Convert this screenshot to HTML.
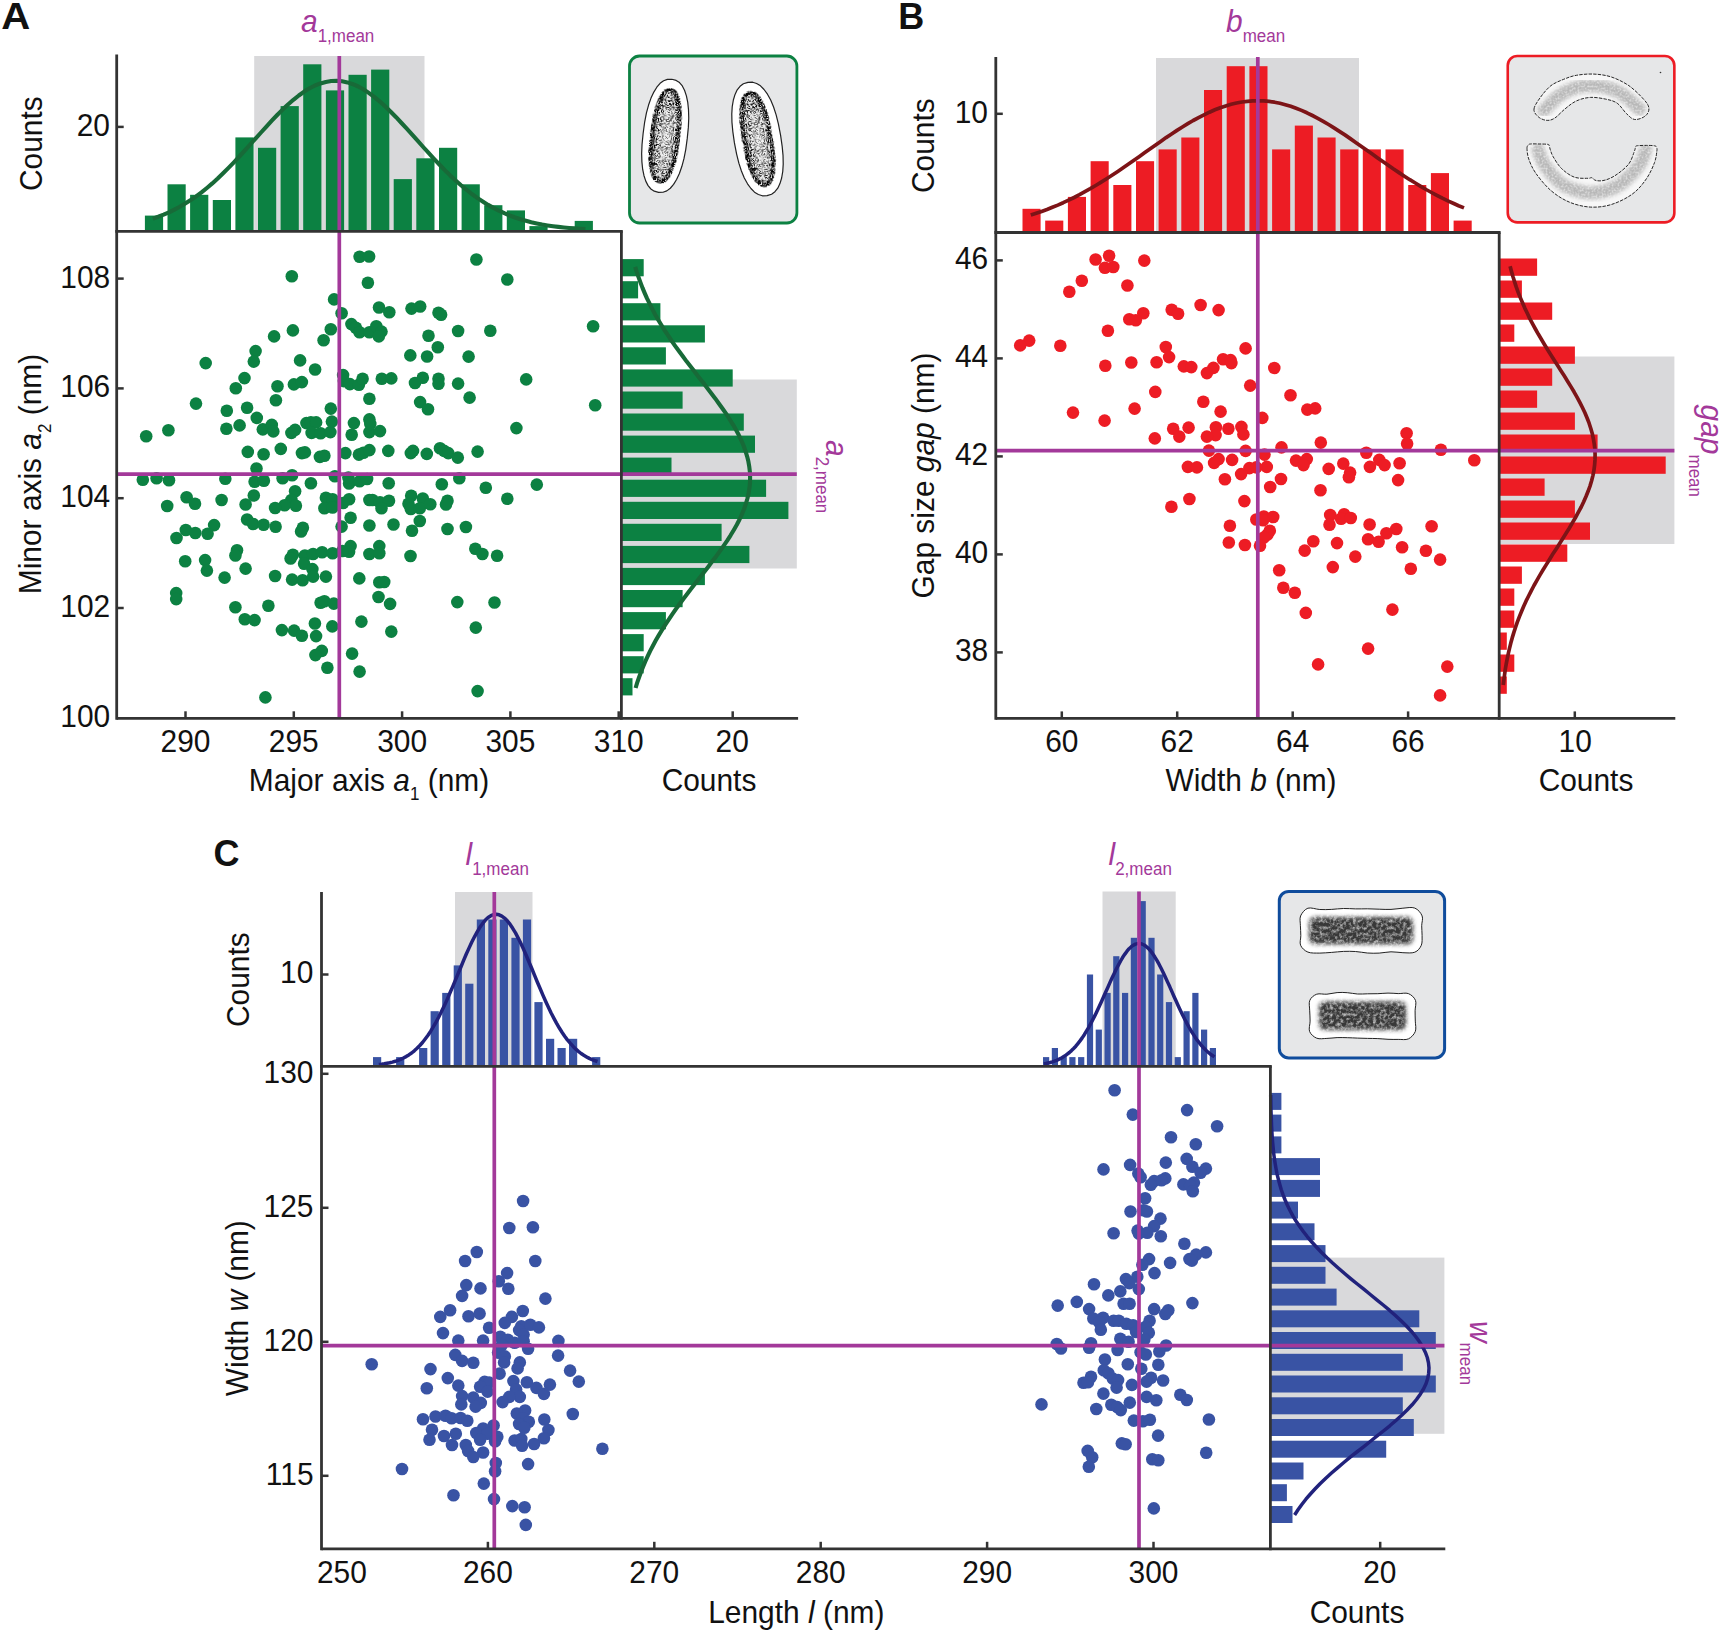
<!DOCTYPE html>
<html><head><meta charset="utf-8"><title>Figure</title>
<style>html,body{margin:0;padding:0;background:#fff}svg{display:block}</style>
</head><body>
<svg width="1719" height="1632" viewBox="0 0 1719 1632" font-family="'Liberation Sans', sans-serif">
<rect width="1719" height="1632" fill="#fff"/>
<rect x="254.2" y="56" width="170.3" height="175.3" fill="#d9d9db"/>
<rect x="623" y="379.5" width="173.8" height="189" fill="#d9d9db"/>
<rect x="144.9" y="215.6" width="18.2" height="15.7" fill="#0c8142"/>
<rect x="167.5" y="184.3" width="18.2" height="47" fill="#0c8142"/>
<rect x="190.1" y="194.8" width="18.2" height="36.5" fill="#0c8142"/>
<rect x="212.8" y="200" width="18.2" height="31.3" fill="#0c8142"/>
<rect x="235.4" y="137.4" width="18.2" height="93.9" fill="#0c8142"/>
<rect x="258" y="147.8" width="18.2" height="83.5" fill="#0c8142"/>
<rect x="280.6" y="106.1" width="18.2" height="125.2" fill="#0c8142"/>
<rect x="303.2" y="64.3" width="18.2" height="167" fill="#0c8142"/>
<rect x="325.9" y="90.4" width="18.2" height="140.9" fill="#0c8142"/>
<rect x="348.5" y="74.8" width="18.2" height="156.5" fill="#0c8142"/>
<rect x="371.1" y="69.6" width="18.2" height="161.7" fill="#0c8142"/>
<rect x="393.7" y="179.1" width="18.2" height="52.2" fill="#0c8142"/>
<rect x="416.3" y="158.3" width="18.2" height="73" fill="#0c8142"/>
<rect x="439" y="147.8" width="18.2" height="83.5" fill="#0c8142"/>
<rect x="461.6" y="184.3" width="18.2" height="47" fill="#0c8142"/>
<rect x="484.2" y="205.2" width="18.2" height="26.1" fill="#0c8142"/>
<rect x="506.8" y="210.4" width="18.2" height="20.9" fill="#0c8142"/>
<rect x="529.4" y="226.1" width="18.2" height="5.2" fill="#0c8142"/>
<rect x="574.7" y="220.9" width="18.2" height="10.4" fill="#0c8142"/>
<rect x="621.4" y="259.1" width="22.3" height="17.2" fill="#0c8142"/>
<rect x="621.4" y="281.2" width="16.7" height="17.2" fill="#0c8142"/>
<rect x="621.4" y="303.2" width="39" height="17.2" fill="#0c8142"/>
<rect x="621.4" y="325.3" width="83.5" height="17.2" fill="#0c8142"/>
<rect x="621.4" y="347.3" width="44.5" height="17.2" fill="#0c8142"/>
<rect x="621.4" y="369.4" width="111.3" height="17.2" fill="#0c8142"/>
<rect x="621.4" y="391.5" width="61.2" height="17.2" fill="#0c8142"/>
<rect x="621.4" y="413.5" width="122.4" height="17.2" fill="#0c8142"/>
<rect x="621.4" y="435.6" width="133.6" height="17.2" fill="#0c8142"/>
<rect x="621.4" y="457.6" width="50.1" height="17.2" fill="#0c8142"/>
<rect x="621.4" y="479.7" width="144.7" height="17.2" fill="#0c8142"/>
<rect x="621.4" y="501.8" width="167" height="17.2" fill="#0c8142"/>
<rect x="621.4" y="523.8" width="100.2" height="17.2" fill="#0c8142"/>
<rect x="621.4" y="545.9" width="128" height="17.2" fill="#0c8142"/>
<rect x="621.4" y="567.9" width="83.5" height="17.2" fill="#0c8142"/>
<rect x="621.4" y="590" width="61.2" height="17.2" fill="#0c8142"/>
<rect x="621.4" y="612.1" width="44.5" height="17.2" fill="#0c8142"/>
<rect x="621.4" y="634.1" width="22.3" height="17.2" fill="#0c8142"/>
<rect x="621.4" y="656.2" width="22.3" height="17.2" fill="#0c8142"/>
<rect x="621.4" y="678.2" width="11.1" height="17.2" fill="#0c8142"/>
<polyline points="152.8,218.6 158.2,216.7 163.6,214.6 169,212.3 174.4,209.6 179.8,206.8 185.2,203.6 190.7,200.1 196.1,196.4 201.5,192.4 206.9,188 212.3,183.4 217.7,178.5 223.1,173.3 228.5,167.9 233.9,162.3 239.3,156.5 244.7,150.6 250.1,144.6 255.5,138.6 261,132.5 266.4,126.6 271.8,120.7 277.2,115 282.6,109.6 288,104.5 293.4,99.8 298.8,95.5 304.2,91.6 309.6,88.3 315,85.5 320.4,83.4 325.8,81.9 331.2,81 336.7,80.8 342.1,81.3 347.5,82.4 352.9,84.2 358.3,86.5 363.7,89.5 369.1,93.1 374.5,97.1 379.9,101.6 385.3,106.5 390.7,111.7 396.1,117.2 401.5,123 407,128.9 412.4,134.9 417.8,140.9 423.2,147 428.6,152.9 434,158.8 439.4,164.5 444.8,170.1 450.2,175.4 455.6,180.4 461,185.2 466.4,189.7 471.8,194 477.2,197.9 482.7,201.5 488.1,204.9 493.5,207.9 498.9,210.7 504.3,213.2 509.7,215.5 515.1,217.5 520.5,219.3 525.9,220.8 531.3,222.2 536.7,223.4 542.1,224.5 547.5,225.4 553,226.2 558.4,226.9 563.8,227.5 569.2,228 574.6,228.4 580,228.7 585.4,229" fill="none" stroke="#186a38" stroke-width="4.1" stroke-linecap="butt" stroke-linejoin="round"/>
<polyline points="635.2,266.8 636.8,272.1 638.6,277.3 640.5,282.6 642.5,287.9 644.7,293.1 647,298.4 649.6,303.7 652.2,308.9 655,314.2 658,319.4 661.2,324.7 664.4,330 667.9,335.2 671.4,340.5 675.1,345.8 678.9,351 682.8,356.3 686.7,361.6 690.8,366.8 694.9,372.1 699,377.4 703.1,382.6 707.2,387.9 711.2,393.2 715.2,398.4 719,403.7 722.8,409 726.4,414.2 729.8,419.5 733.1,424.8 736.1,430 738.9,435.3 741.4,440.5 743.6,445.8 745.5,451.1 747.1,456.3 748.4,461.6 749.3,466.9 749.9,472.1 750.1,477.4 750,482.7 749.5,487.9 748.6,493.2 747.4,498.5 745.9,503.7 744.1,509 741.9,514.3 739.5,519.5 736.8,524.8 733.8,530 730.6,535.3 727.2,540.6 723.6,545.8 719.9,551.1 716.1,556.4 712.1,561.6 708.1,566.9 704,572.2 699.9,577.4 695.8,582.7 691.7,588 687.7,593.2 683.7,598.5 679.8,603.8 675.9,609 672.2,614.3 668.7,619.6 665.2,624.8 661.9,630.1 658.7,635.4 655.7,640.6 652.8,645.9 650.1,651.1 647.6,656.4 645.2,661.7 643,666.9 640.9,672.2 639,677.5 637.2,682.7 635.6,688" fill="none" stroke="#186a38" stroke-width="4.1" stroke-linecap="butt" stroke-linejoin="round"/>
<g fill="#0c8142">
<circle cx="256.5" cy="468.5" r="6.3"/>
<circle cx="291.8" cy="276.3" r="6.3"/>
<circle cx="359.6" cy="256.8" r="6.3"/>
<circle cx="367.9" cy="282.8" r="6.3"/>
<circle cx="334.1" cy="299.4" r="6.3"/>
<circle cx="341.6" cy="313.2" r="6.3"/>
<circle cx="351.4" cy="324.1" r="6.3"/>
<circle cx="355.9" cy="327.8" r="6.3"/>
<circle cx="359.6" cy="332.3" r="6.3"/>
<circle cx="369.4" cy="332.3" r="6.3"/>
<circle cx="330.8" cy="329.3" r="6.3"/>
<circle cx="323.6" cy="340.3" r="6.3"/>
<circle cx="292.9" cy="330.4" r="6.3"/>
<circle cx="274.1" cy="336.4" r="6.3"/>
<circle cx="255.6" cy="351.1" r="6.3"/>
<circle cx="253.8" cy="361.6" r="6.3"/>
<circle cx="205.7" cy="363.1" r="6.3"/>
<circle cx="300.1" cy="360.4" r="6.3"/>
<circle cx="315.1" cy="369.5" r="6.3"/>
<circle cx="244.5" cy="378.1" r="6.3"/>
<circle cx="235.8" cy="388.3" r="6.3"/>
<circle cx="277.5" cy="386.3" r="6.3"/>
<circle cx="293.9" cy="384.4" r="6.3"/>
<circle cx="301.9" cy="382.1" r="6.3"/>
<circle cx="343.1" cy="375.1" r="6.3"/>
<circle cx="343.9" cy="381.1" r="6.3"/>
<circle cx="349.9" cy="384.1" r="6.3"/>
<circle cx="358.9" cy="384.8" r="6.3"/>
<circle cx="362.6" cy="378.8" r="6.3"/>
<circle cx="275.9" cy="400.3" r="6.3"/>
<circle cx="369.4" cy="398.8" r="6.3"/>
<circle cx="196" cy="403.6" r="6.3"/>
<circle cx="226.8" cy="410.8" r="6.3"/>
<circle cx="247.1" cy="407.7" r="6.3"/>
<circle cx="330.8" cy="408.6" r="6.3"/>
<circle cx="256.8" cy="417.9" r="6.3"/>
<circle cx="239.6" cy="425.4" r="6.3"/>
<circle cx="226.4" cy="428.8" r="6.3"/>
<circle cx="262.8" cy="429.4" r="6.3"/>
<circle cx="271.8" cy="424.9" r="6.3"/>
<circle cx="273.3" cy="431.4" r="6.3"/>
<circle cx="291.4" cy="432.9" r="6.3"/>
<circle cx="295.1" cy="429.9" r="6.3"/>
<circle cx="306.4" cy="423.1" r="6.3"/>
<circle cx="310.9" cy="422.4" r="6.3"/>
<circle cx="316.1" cy="422.4" r="6.3"/>
<circle cx="311.6" cy="432.9" r="6.3"/>
<circle cx="320.6" cy="433.3" r="6.3"/>
<circle cx="330.4" cy="432.1" r="6.3"/>
<circle cx="331.9" cy="421.6" r="6.3"/>
<circle cx="353.9" cy="423.1" r="6.3"/>
<circle cx="351.7" cy="434.8" r="6.3"/>
<circle cx="369.4" cy="419.4" r="6.3"/>
<circle cx="369.4" cy="432.1" r="6.3"/>
<circle cx="168.4" cy="430.3" r="6.3"/>
<circle cx="146.2" cy="436.3" r="6.3"/>
<circle cx="247.8" cy="451.9" r="6.3"/>
<circle cx="263.6" cy="454.2" r="6.3"/>
<circle cx="280.8" cy="448.9" r="6.3"/>
<circle cx="301.9" cy="453.1" r="6.3"/>
<circle cx="304.9" cy="452.4" r="6.3"/>
<circle cx="319.9" cy="456.9" r="6.3"/>
<circle cx="324.4" cy="455.8" r="6.3"/>
<circle cx="345.4" cy="453.1" r="6.3"/>
<circle cx="358.9" cy="454.6" r="6.3"/>
<circle cx="363.4" cy="452.8" r="6.3"/>
<circle cx="369.4" cy="450.1" r="6.3"/>
<circle cx="369.1" cy="256.5" r="6.3"/>
<circle cx="476.4" cy="259.5" r="6.3"/>
<circle cx="507.3" cy="279.5" r="6.3"/>
<circle cx="379" cy="307.5" r="6.3"/>
<circle cx="389.3" cy="312.3" r="6.3"/>
<circle cx="411.5" cy="308.6" r="6.3"/>
<circle cx="420.2" cy="306.5" r="6.3"/>
<circle cx="438.5" cy="312.8" r="6.3"/>
<circle cx="441.1" cy="314.8" r="6.3"/>
<circle cx="376.3" cy="326.3" r="6.3"/>
<circle cx="381.5" cy="331.6" r="6.3"/>
<circle cx="378.8" cy="336.4" r="6.3"/>
<circle cx="428.5" cy="335.8" r="6.3"/>
<circle cx="458.1" cy="331" r="6.3"/>
<circle cx="490.3" cy="330.7" r="6.3"/>
<circle cx="593.1" cy="326.2" r="6.3"/>
<circle cx="437.8" cy="347.3" r="6.3"/>
<circle cx="410.3" cy="355.4" r="6.3"/>
<circle cx="427.1" cy="356.5" r="6.3"/>
<circle cx="468.6" cy="356.6" r="6.3"/>
<circle cx="381.8" cy="378.8" r="6.3"/>
<circle cx="391.3" cy="378.4" r="6.3"/>
<circle cx="415" cy="383" r="6.3"/>
<circle cx="422.8" cy="377.8" r="6.3"/>
<circle cx="438.5" cy="378.8" r="6.3"/>
<circle cx="438.5" cy="383.8" r="6.3"/>
<circle cx="458.1" cy="383.6" r="6.3"/>
<circle cx="526.2" cy="379.4" r="6.3"/>
<circle cx="469.6" cy="397.6" r="6.3"/>
<circle cx="420.1" cy="402.1" r="6.3"/>
<circle cx="428" cy="409.3" r="6.3"/>
<circle cx="595.2" cy="405.3" r="6.3"/>
<circle cx="370.3" cy="423.9" r="6.3"/>
<circle cx="380" cy="431.1" r="6.3"/>
<circle cx="516.4" cy="428.1" r="6.3"/>
<circle cx="388.3" cy="450.9" r="6.3"/>
<circle cx="413" cy="450.9" r="6.3"/>
<circle cx="410.8" cy="453.1" r="6.3"/>
<circle cx="426.8" cy="453.9" r="6.3"/>
<circle cx="440" cy="448.3" r="6.3"/>
<circle cx="444.1" cy="450.9" r="6.3"/>
<circle cx="448.3" cy="453.1" r="6.3"/>
<circle cx="457.8" cy="457.6" r="6.3"/>
<circle cx="477.6" cy="451.6" r="6.3"/>
<circle cx="142.8" cy="479.8" r="6.3"/>
<circle cx="156.6" cy="478.3" r="6.3"/>
<circle cx="169" cy="480.2" r="6.3"/>
<circle cx="225.3" cy="478.7" r="6.3"/>
<circle cx="254.6" cy="481.7" r="6.3"/>
<circle cx="263.9" cy="480.8" r="6.3"/>
<circle cx="282.6" cy="478.3" r="6.3"/>
<circle cx="292.1" cy="475.3" r="6.3"/>
<circle cx="310.9" cy="483.2" r="6.3"/>
<circle cx="334.9" cy="476.3" r="6.3"/>
<circle cx="349.1" cy="483.5" r="6.3"/>
<circle cx="359.6" cy="481.3" r="6.3"/>
<circle cx="367.1" cy="479" r="6.3"/>
<circle cx="348.4" cy="477.5" r="6.3"/>
<circle cx="186.6" cy="497.3" r="6.3"/>
<circle cx="195" cy="503.8" r="6.3"/>
<circle cx="167.2" cy="506" r="6.3"/>
<circle cx="221.6" cy="500" r="6.3"/>
<circle cx="253.8" cy="495.5" r="6.3"/>
<circle cx="245.6" cy="504.5" r="6.3"/>
<circle cx="295.1" cy="491.3" r="6.3"/>
<circle cx="291.4" cy="500" r="6.3"/>
<circle cx="295.9" cy="505.7" r="6.3"/>
<circle cx="284.6" cy="505.3" r="6.3"/>
<circle cx="275.1" cy="508" r="6.3"/>
<circle cx="325.9" cy="497.8" r="6.3"/>
<circle cx="332.6" cy="499.3" r="6.3"/>
<circle cx="324.4" cy="508.3" r="6.3"/>
<circle cx="332.6" cy="507.5" r="6.3"/>
<circle cx="349.1" cy="499.3" r="6.3"/>
<circle cx="343.1" cy="503" r="6.3"/>
<circle cx="369.4" cy="500" r="6.3"/>
<circle cx="350.6" cy="517.7" r="6.3"/>
<circle cx="341.6" cy="526.6" r="6.3"/>
<circle cx="369.4" cy="525.5" r="6.3"/>
<circle cx="247.1" cy="519.5" r="6.3"/>
<circle cx="253.1" cy="524" r="6.3"/>
<circle cx="263.6" cy="524.8" r="6.3"/>
<circle cx="275.6" cy="526.7" r="6.3"/>
<circle cx="302.9" cy="527.8" r="6.3"/>
<circle cx="301.1" cy="531.5" r="6.3"/>
<circle cx="214.1" cy="525.1" r="6.3"/>
<circle cx="185.8" cy="530" r="6.3"/>
<circle cx="195.3" cy="533" r="6.3"/>
<circle cx="207.6" cy="533.8" r="6.3"/>
<circle cx="176.5" cy="538" r="6.3"/>
<circle cx="237" cy="550.3" r="6.3"/>
<circle cx="235.4" cy="555.5" r="6.3"/>
<circle cx="185.2" cy="561.3" r="6.3"/>
<circle cx="205.1" cy="560.1" r="6.3"/>
<circle cx="206.9" cy="570.6" r="6.3"/>
<circle cx="245.6" cy="568.6" r="6.3"/>
<circle cx="224.6" cy="577.6" r="6.3"/>
<circle cx="275.1" cy="576" r="6.3"/>
<circle cx="292.9" cy="554.8" r="6.3"/>
<circle cx="290.6" cy="558.5" r="6.3"/>
<circle cx="304.9" cy="555.5" r="6.3"/>
<circle cx="313.1" cy="554" r="6.3"/>
<circle cx="322.1" cy="552.2" r="6.3"/>
<circle cx="332.6" cy="553.3" r="6.3"/>
<circle cx="350.6" cy="546.1" r="6.3"/>
<circle cx="349.1" cy="551.8" r="6.3"/>
<circle cx="342.4" cy="551" r="6.3"/>
<circle cx="369.4" cy="554" r="6.3"/>
<circle cx="304.1" cy="563.8" r="6.3"/>
<circle cx="312.4" cy="569.1" r="6.3"/>
<circle cx="292.1" cy="579.6" r="6.3"/>
<circle cx="302.6" cy="580.3" r="6.3"/>
<circle cx="313.1" cy="576.6" r="6.3"/>
<circle cx="325.9" cy="576.6" r="6.3"/>
<circle cx="359.3" cy="578.4" r="6.3"/>
<circle cx="176.2" cy="593.1" r="6.3"/>
<circle cx="176.2" cy="599.1" r="6.3"/>
<circle cx="235.4" cy="607.3" r="6.3"/>
<circle cx="268.4" cy="605.7" r="6.3"/>
<circle cx="320.6" cy="602.8" r="6.3"/>
<circle cx="324.4" cy="601.3" r="6.3"/>
<circle cx="333.8" cy="603.6" r="6.3"/>
<circle cx="244.8" cy="619.3" r="6.3"/>
<circle cx="254.6" cy="620.1" r="6.3"/>
<circle cx="281.9" cy="630.1" r="6.3"/>
<circle cx="294.1" cy="630.6" r="6.3"/>
<circle cx="301.9" cy="635.8" r="6.3"/>
<circle cx="314.9" cy="623.5" r="6.3"/>
<circle cx="316.1" cy="636.1" r="6.3"/>
<circle cx="332.3" cy="626.4" r="6.3"/>
<circle cx="361.4" cy="621.6" r="6.3"/>
<circle cx="321.8" cy="650.9" r="6.3"/>
<circle cx="315.4" cy="655.1" r="6.3"/>
<circle cx="352.1" cy="653.6" r="6.3"/>
<circle cx="327.4" cy="667.7" r="6.3"/>
<circle cx="359.6" cy="671.6" r="6.3"/>
<circle cx="265.4" cy="697.4" r="6.3"/>
<circle cx="372.5" cy="500" r="6.3"/>
<circle cx="388.7" cy="483.2" r="6.3"/>
<circle cx="441.8" cy="484.3" r="6.3"/>
<circle cx="459.3" cy="478.3" r="6.3"/>
<circle cx="485.8" cy="487.7" r="6.3"/>
<circle cx="536.8" cy="484.6" r="6.3"/>
<circle cx="507.3" cy="498.8" r="6.3"/>
<circle cx="380" cy="502.3" r="6.3"/>
<circle cx="389" cy="500.8" r="6.3"/>
<circle cx="381.5" cy="508.3" r="6.3"/>
<circle cx="411.2" cy="495.8" r="6.3"/>
<circle cx="408.5" cy="503.8" r="6.3"/>
<circle cx="410.8" cy="509" r="6.3"/>
<circle cx="422.8" cy="498.5" r="6.3"/>
<circle cx="419.8" cy="508.3" r="6.3"/>
<circle cx="430.3" cy="504.2" r="6.3"/>
<circle cx="447.5" cy="500.8" r="6.3"/>
<circle cx="446" cy="504.5" r="6.3"/>
<circle cx="393.5" cy="524.5" r="6.3"/>
<circle cx="419.8" cy="521" r="6.3"/>
<circle cx="412" cy="530.8" r="6.3"/>
<circle cx="447.5" cy="529" r="6.3"/>
<circle cx="465.9" cy="527" r="6.3"/>
<circle cx="379.3" cy="546.1" r="6.3"/>
<circle cx="379.3" cy="553.3" r="6.3"/>
<circle cx="410.5" cy="556" r="6.3"/>
<circle cx="475.3" cy="548.8" r="6.3"/>
<circle cx="482.4" cy="554" r="6.3"/>
<circle cx="497.1" cy="555.8" r="6.3"/>
<circle cx="379.3" cy="582.3" r="6.3"/>
<circle cx="384.2" cy="582" r="6.3"/>
<circle cx="378.5" cy="597" r="6.3"/>
<circle cx="390.1" cy="603.9" r="6.3"/>
<circle cx="457.3" cy="602.1" r="6.3"/>
<circle cx="494.5" cy="602.5" r="6.3"/>
<circle cx="391.3" cy="631.6" r="6.3"/>
<circle cx="475.8" cy="627.6" r="6.3"/>
<circle cx="477.6" cy="691.1" r="6.3"/>
</g>
<line x1="339.3" y1="56" x2="339.3" y2="718.3" stroke="#a3399a" stroke-width="3.7" stroke-linecap="butt"/>
<line x1="116.7" y1="474.1" x2="796.8" y2="474.1" stroke="#a3399a" stroke-width="3.7" stroke-linecap="butt"/>
<line x1="116.7" y1="54.6" x2="116.7" y2="719.7" stroke="#333333" stroke-width="2.8" stroke-linecap="butt"/>
<line x1="115.3" y1="231.3" x2="622.8" y2="231.3" stroke="#333333" stroke-width="2.8" stroke-linecap="butt"/>
<line x1="621.4" y1="231.3" x2="621.4" y2="719.7" stroke="#333333" stroke-width="2.8" stroke-linecap="butt"/>
<line x1="116.7" y1="718.3" x2="798.1" y2="718.3" stroke="#333333" stroke-width="2.8" stroke-linecap="butt"/>
<line x1="116.7" y1="126.9" x2="123.7" y2="126.9" stroke="#333333" stroke-width="2.5" stroke-linecap="butt"/>
<text transform="translate(110.2 726.7) scale(1 1.03)" font-size="29.9" text-anchor="end" fill="#111" >100</text>
<line x1="116.7" y1="608" x2="123.7" y2="608" stroke="#333333" stroke-width="2.5" stroke-linecap="butt"/>
<text transform="translate(110.2 616.9) scale(1 1.03)" font-size="29.9" text-anchor="end" fill="#111" >102</text>
<line x1="116.7" y1="498.2" x2="123.7" y2="498.2" stroke="#333333" stroke-width="2.5" stroke-linecap="butt"/>
<text transform="translate(110.2 507.1) scale(1 1.03)" font-size="29.9" text-anchor="end" fill="#111" >104</text>
<line x1="116.7" y1="388.4" x2="123.7" y2="388.4" stroke="#333333" stroke-width="2.5" stroke-linecap="butt"/>
<text transform="translate(110.2 397.3) scale(1 1.03)" font-size="29.9" text-anchor="end" fill="#111" >106</text>
<line x1="116.7" y1="278.6" x2="123.7" y2="278.6" stroke="#333333" stroke-width="2.5" stroke-linecap="butt"/>
<text transform="translate(110.2 287.5) scale(1 1.03)" font-size="29.9" text-anchor="end" fill="#111" >108</text>
<text transform="translate(110 135.8) scale(1 1.03)" font-size="29.9" text-anchor="end" fill="#111" >20</text>
<line x1="185.5" y1="718.3" x2="185.5" y2="711.3" stroke="#333333" stroke-width="2.5" stroke-linecap="butt"/>
<text transform="translate(185.5 752) scale(1 1.03)" font-size="29.9" text-anchor="middle" fill="#111" >290</text>
<line x1="293.8" y1="718.3" x2="293.8" y2="711.3" stroke="#333333" stroke-width="2.5" stroke-linecap="butt"/>
<text transform="translate(293.8 752) scale(1 1.03)" font-size="29.9" text-anchor="middle" fill="#111" >295</text>
<line x1="402.1" y1="718.3" x2="402.1" y2="711.3" stroke="#333333" stroke-width="2.5" stroke-linecap="butt"/>
<text transform="translate(402.1 752) scale(1 1.03)" font-size="29.9" text-anchor="middle" fill="#111" >300</text>
<line x1="510.4" y1="718.3" x2="510.4" y2="711.3" stroke="#333333" stroke-width="2.5" stroke-linecap="butt"/>
<text transform="translate(510.4 752) scale(1 1.03)" font-size="29.9" text-anchor="middle" fill="#111" >305</text>
<line x1="618.7" y1="718.3" x2="618.7" y2="711.3" stroke="#333333" stroke-width="2.5" stroke-linecap="butt"/>
<text transform="translate(618.7 752) scale(1 1.03)" font-size="29.9" text-anchor="middle" fill="#111" >310</text>
<line x1="732.7" y1="718.3" x2="732.7" y2="711.3" stroke="#333333" stroke-width="2.5" stroke-linecap="butt"/>
<text transform="translate(732.2 752) scale(1 1.03)" font-size="29.9" text-anchor="middle" fill="#111" >20</text>
<text transform="translate(709 791.3) scale(1 1.03)" font-size="29.9" text-anchor="middle" fill="#111" >Counts</text>
<text transform="translate(369 790.6) scale(1 1.03)" font-size="29.9" text-anchor="middle" fill="#111" >Major axis <tspan font-style="italic">a</tspan><tspan font-size="17" dy="9.5">1</tspan><tspan dy="-9.5"> (nm)</tspan></text>
<text transform="translate(41.2 474) rotate(-90) scale(1 1.03)" font-size="29.9" text-anchor="middle" fill="#111">Minor axis <tspan font-style="italic">a</tspan><tspan font-size="17" dy="9.5">2</tspan><tspan dy="-9.5"> (nm)</tspan></text>
<text transform="translate(41.7 143.7) rotate(-90) scale(1 1.03)" font-size="29.9" text-anchor="middle" fill="#111">Counts</text>
<text transform="translate(301 32) scale(1 1.03)" font-size="29.9" text-anchor="start" fill="#a3399a" ><tspan font-style="italic">a</tspan><tspan font-size="17" dy="10">1,mean</tspan></text>
<text transform="translate(825.8 440) rotate(90) scale(1 1.03)" font-size="29.9" text-anchor="start" fill="#a3399a"><tspan font-style="italic">a</tspan><tspan font-size="17" dy="9.2">2,mean</tspan></text>
<text transform="translate(1.2 28.7) scale(1.1 1)" font-size="36.5" font-weight="bold" fill="#111">A</text>
<rect x="629.5" y="56" width="167.4" height="167" rx="10" fill="#e6e7e8" stroke="#0c8142" stroke-width="2.8"/>
<defs>
<filter id="spk" x="-5%" y="-5%" width="110%" height="110%" color-interpolation-filters="sRGB">
<feTurbulence type="fractalNoise" baseFrequency="0.95" numOctaves="2" seed="4" result="n"/>
<feColorMatrix in="n" type="matrix" values="0 0 0 0 0 0 0 0 0 0 0 0 0 0 0 0 0 0 -12 6.0" result="t"/>
<feComposite in="t" in2="SourceGraphic" operator="in"/>
</filter>
<filter id="spk2" x="-5%" y="-5%" width="110%" height="110%" color-interpolation-filters="sRGB">
<feTurbulence type="fractalNoise" baseFrequency="0.9" numOctaves="2" seed="9" result="n"/>
<feColorMatrix in="n" type="matrix" values="0 0 0 0 0 0 0 0 0 0 0 0 0 0 0 0 0 0 -12 6.6" result="t"/>
<feComposite in="t" in2="SourceGraphic" operator="in"/>
</filter>
<filter id="mot" x="-10%" y="-20%" width="120%" height="140%" color-interpolation-filters="sRGB">
<feGaussianBlur in="SourceGraphic" stdDeviation="1.9" result="b"/>
<feTurbulence type="fractalNoise" baseFrequency="0.3" numOctaves="3" seed="7" result="n"/>
<feColorMatrix in="n" type="matrix" values="0 0 0 0 0.22 0 0 0 0 0.22 0 0 0 0 0.22 0 0 0 1.5 0.1" result="c"/>
<feComposite in="c" in2="b" operator="in"/>
</filter>
<filter id="sft" x="-10%" y="-20%" width="120%" height="140%" color-interpolation-filters="sRGB">
<feGaussianBlur in="SourceGraphic" stdDeviation="2.2" result="b"/>
<feTurbulence type="fractalNoise" baseFrequency="0.5" numOctaves="2" seed="11" result="n"/>
<feColorMatrix in="n" type="matrix" values="0 0 0 0 0.72 0 0 0 0 0.72 0 0 0 0 0.72 0 0 0 1.5 0.1" result="c"/>
<feComposite in="c" in2="b" operator="in"/>
</filter>
<filter id="bl3"><feGaussianBlur stdDeviation="3"/></filter>
</defs>
<g transform="translate(665.2 135.8) rotate(6.7)">
<polygon points="22.2,0 22,11.3 21.3,20.5 20.1,28.6 18.5,35.8 16.4,42.1 14,47.3 11.2,51.5 8,54.5 4.4,56.3 0,56.9 -4.4,56.3 -8,54.5 -11.2,51.5 -14,47.3 -16.4,42.1 -18.5,35.8 -20.1,28.6 -21.3,20.5 -22,11.3 -22.2,0 -22,-11.3 -21.3,-20.5 -20.1,-28.6 -18.5,-35.8 -16.4,-42.1 -14,-47.3 -11.2,-51.5 -8,-54.5 -4.4,-56.3 -0,-56.9 4.4,-56.3 8,-54.5 11.2,-51.5 14,-47.3 16.4,-42.1 18.5,-35.8 20.1,-28.6 21.3,-20.5 22,-11.3" fill="#fff" stroke="#222" stroke-width="1.2" stroke-linejoin="round"/>
<polygon points="15.2,0 15,9.6 14.6,17.3 13.7,24.2 12.6,30.2 11.2,35.5 9.6,39.9 7.6,43.4 5.5,46 3,47.5 0,48 -3,47.5 -5.5,46 -7.6,43.4 -9.6,39.9 -11.2,35.5 -12.6,30.2 -13.7,24.2 -14.6,17.3 -15,9.6 -15.2,0 -15,-9.6 -14.6,-17.3 -13.7,-24.2 -12.6,-30.2 -11.2,-35.5 -9.6,-39.9 -7.6,-43.4 -5.5,-46 -3,-47.5 -0,-48 3,-47.5 5.5,-46 7.6,-43.4 9.6,-39.9 11.2,-35.5 12.6,-30.2 13.7,-24.2 14.6,-17.3 15,-9.6" fill="#8a8a8a" opacity="0.18"/>
<polygon points="15.2,0 15,9.6 14.6,17.3 13.7,24.2 12.6,30.2 11.2,35.5 9.6,39.9 7.6,43.4 5.5,46 3,47.5 0,48 -3,47.5 -5.5,46 -7.6,43.4 -9.6,39.9 -11.2,35.5 -12.6,30.2 -13.7,24.2 -14.6,17.3 -15,9.6 -15.2,0 -15,-9.6 -14.6,-17.3 -13.7,-24.2 -12.6,-30.2 -11.2,-35.5 -9.6,-39.9 -7.6,-43.4 -5.5,-46 -3,-47.5 -0,-48 3,-47.5 5.5,-46 7.6,-43.4 9.6,-39.9 11.2,-35.5 12.6,-30.2 13.7,-24.2 14.6,-17.3 15,-9.6" fill="#000" filter="url(#spk)"/>
<ellipse rx="6.3839999999999995" ry="33.599999999999994" cx="1.5" cy="4" fill="#fff" opacity="0.42" filter="url(#bl3)"/>
<polygon points="13,0 12.9,9.1 12.4,16.5 11.8,23 10.8,28.9 9.6,33.9 8.2,38.1 6.5,41.4 4.7,43.8 2.6,45.3 0,45.8 -2.6,45.3 -4.7,43.8 -6.5,41.4 -8.2,38.1 -9.6,33.9 -10.8,28.9 -11.8,23 -12.4,16.5 -12.9,9.1 -13,0 -12.9,-9.1 -12.4,-16.5 -11.8,-23 -10.8,-28.9 -9.6,-33.9 -8.2,-38.1 -6.5,-41.4 -4.7,-43.8 -2.6,-45.3 -0,-45.8 2.6,-45.3 4.7,-43.8 6.5,-41.4 8.2,-38.1 9.6,-33.9 10.8,-28.9 11.8,-23 12.4,-16.5 12.9,-9.1" fill="none" stroke="#000" stroke-width="4.4" filter="url(#spk2)"/>
</g>
<g transform="translate(757.5 139) rotate(-9.6)">
<polygon points="23.4,0 23.1,11.4 22.4,20.7 21.2,28.9 19.5,36.2 17.3,42.5 14.7,47.7 11.8,51.9 8.4,54.9 4.7,56.8 0,57.4 -4.7,56.8 -8.4,54.9 -11.8,51.9 -14.7,47.7 -17.3,42.5 -19.5,36.2 -21.2,28.9 -22.4,20.7 -23.1,11.4 -23.4,0 -23.1,-11.4 -22.4,-20.7 -21.2,-28.9 -19.5,-36.2 -17.3,-42.5 -14.7,-47.7 -11.8,-51.9 -8.4,-54.9 -4.7,-56.8 -0,-57.4 4.7,-56.8 8.4,-54.9 11.8,-51.9 14.7,-47.7 17.3,-42.5 19.5,-36.2 21.2,-28.9 22.4,-20.7 23.1,-11.4" fill="#fff" stroke="#222" stroke-width="1.2" stroke-linejoin="round"/>
<polygon points="15.6,0 15.4,9.7 14.9,17.5 14.1,24.5 13,30.6 11.5,36 9.8,40.4 7.9,44 5.6,46.5 3.1,48.1 0,48.6 -3.1,48.1 -5.6,46.5 -7.9,44 -9.8,40.4 -11.5,36 -13,30.6 -14.1,24.5 -14.9,17.5 -15.4,9.7 -15.6,0 -15.4,-9.7 -14.9,-17.5 -14.1,-24.5 -13,-30.6 -11.5,-36 -9.8,-40.4 -7.9,-44 -5.6,-46.5 -3.1,-48.1 -0,-48.6 3.1,-48.1 5.6,-46.5 7.9,-44 9.8,-40.4 11.5,-36 13,-30.6 14.1,-24.5 14.9,-17.5 15.4,-9.7" fill="#8a8a8a" opacity="0.18"/>
<polygon points="15.6,0 15.4,9.7 14.9,17.5 14.1,24.5 13,30.6 11.5,36 9.8,40.4 7.9,44 5.6,46.5 3.1,48.1 0,48.6 -3.1,48.1 -5.6,46.5 -7.9,44 -9.8,40.4 -11.5,36 -13,30.6 -14.1,24.5 -14.9,17.5 -15.4,9.7 -15.6,0 -15.4,-9.7 -14.9,-17.5 -14.1,-24.5 -13,-30.6 -11.5,-36 -9.8,-40.4 -7.9,-44 -5.6,-46.5 -3.1,-48.1 -0,-48.6 3.1,-48.1 5.6,-46.5 7.9,-44 9.8,-40.4 11.5,-36 13,-30.6 14.1,-24.5 14.9,-17.5 15.4,-9.7" fill="#000" filter="url(#spk)"/>
<ellipse rx="6.552" ry="34.019999999999996" cx="1.5" cy="4" fill="#fff" opacity="0.42" filter="url(#bl3)"/>
<polygon points="13.4,0 13.3,9.2 12.8,16.7 12.1,23.4 11.1,29.2 9.9,34.3 8.4,38.6 6.7,42 4.8,44.4 2.7,45.9 0,46.4 -2.7,45.9 -4.8,44.4 -6.7,42 -8.4,38.6 -9.9,34.3 -11.1,29.2 -12.1,23.4 -12.8,16.7 -13.3,9.2 -13.4,0 -13.3,-9.2 -12.8,-16.7 -12.1,-23.4 -11.1,-29.2 -9.9,-34.3 -8.4,-38.6 -6.7,-42 -4.8,-44.4 -2.7,-45.9 -0,-46.4 2.7,-45.9 4.8,-44.4 6.7,-42 8.4,-38.6 9.9,-34.3 11.1,-29.2 12.1,-23.4 12.8,-16.7 13.3,-9.2" fill="none" stroke="#000" stroke-width="4.4" filter="url(#spk2)"/>
</g>
<rect x="1156" y="58" width="203" height="174.5" fill="#d9d9db"/>
<rect x="1500.6" y="356.5" width="173.8" height="187.5" fill="#d9d9db"/>
<rect x="1022.5" y="208.8" width="18.1" height="23.8" fill="#ed1c24"/>
<rect x="1045.2" y="220.6" width="18.1" height="11.9" fill="#ed1c24"/>
<rect x="1067.9" y="196.9" width="18.1" height="35.6" fill="#ed1c24"/>
<rect x="1090.6" y="161.2" width="18.1" height="71.2" fill="#ed1c24"/>
<rect x="1113.3" y="185" width="18.1" height="47.5" fill="#ed1c24"/>
<rect x="1136" y="161.2" width="18.1" height="71.2" fill="#ed1c24"/>
<rect x="1158.6" y="149.4" width="18.1" height="83.1" fill="#ed1c24"/>
<rect x="1181.3" y="137.5" width="18.1" height="95" fill="#ed1c24"/>
<rect x="1204" y="90" width="18.1" height="142.5" fill="#ed1c24"/>
<rect x="1226.7" y="66.2" width="18.1" height="166.2" fill="#ed1c24"/>
<rect x="1249.4" y="66.2" width="18.1" height="166.2" fill="#ed1c24"/>
<rect x="1272.1" y="149.4" width="18.1" height="83.1" fill="#ed1c24"/>
<rect x="1294.8" y="125.6" width="18.1" height="106.9" fill="#ed1c24"/>
<rect x="1317.5" y="137.5" width="18.1" height="95" fill="#ed1c24"/>
<rect x="1340.2" y="149.4" width="18.1" height="83.1" fill="#ed1c24"/>
<rect x="1362.8" y="149.4" width="18.1" height="83.1" fill="#ed1c24"/>
<rect x="1385.5" y="149.4" width="18.1" height="83.1" fill="#ed1c24"/>
<rect x="1408.2" y="185" width="18.1" height="47.5" fill="#ed1c24"/>
<rect x="1430.9" y="173.1" width="18.1" height="59.4" fill="#ed1c24"/>
<rect x="1453.6" y="220.6" width="18.1" height="11.9" fill="#ed1c24"/>
<rect x="1499.2" y="258.5" width="37.9" height="17.3" fill="#ed1c24"/>
<rect x="1499.2" y="280.5" width="22.7" height="17.3" fill="#ed1c24"/>
<rect x="1499.2" y="302.5" width="53" height="17.3" fill="#ed1c24"/>
<rect x="1499.2" y="324.5" width="15.1" height="17.3" fill="#ed1c24"/>
<rect x="1499.2" y="346.5" width="75.7" height="17.3" fill="#ed1c24"/>
<rect x="1499.2" y="368.5" width="53" height="17.3" fill="#ed1c24"/>
<rect x="1499.2" y="390.5" width="37.9" height="17.3" fill="#ed1c24"/>
<rect x="1499.2" y="412.5" width="75.7" height="17.3" fill="#ed1c24"/>
<rect x="1499.2" y="434.5" width="98.4" height="17.3" fill="#ed1c24"/>
<rect x="1499.2" y="456.5" width="166.5" height="17.3" fill="#ed1c24"/>
<rect x="1499.2" y="478.5" width="45.4" height="17.3" fill="#ed1c24"/>
<rect x="1499.2" y="500.5" width="75.7" height="17.3" fill="#ed1c24"/>
<rect x="1499.2" y="522.5" width="90.8" height="17.3" fill="#ed1c24"/>
<rect x="1499.2" y="544.5" width="68.1" height="17.3" fill="#ed1c24"/>
<rect x="1499.2" y="566.5" width="22.7" height="17.3" fill="#ed1c24"/>
<rect x="1499.2" y="588.5" width="15.1" height="17.3" fill="#ed1c24"/>
<rect x="1499.2" y="610.5" width="15.1" height="17.3" fill="#ed1c24"/>
<rect x="1499.2" y="632.5" width="7.6" height="17.3" fill="#ed1c24"/>
<rect x="1499.2" y="654.5" width="15.1" height="17.3" fill="#ed1c24"/>
<rect x="1499.2" y="676.5" width="7.6" height="17.3" fill="#ed1c24"/>
<polyline points="1030.8,215.1 1036.2,213.3 1041.6,211.5 1047,209.5 1052.4,207.3 1057.8,205.1 1063.2,202.7 1068.7,200.1 1074.1,197.5 1079.5,194.7 1084.9,191.7 1090.3,188.7 1095.7,185.5 1101.2,182.2 1106.6,178.8 1112,175.3 1117.4,171.7 1122.8,168 1128.2,164.3 1133.6,160.5 1139.1,156.7 1144.5,152.8 1149.9,149 1155.3,145.2 1160.7,141.4 1166.1,137.6 1171.6,134 1177,130.4 1182.4,127 1187.8,123.7 1193.2,120.5 1198.6,117.6 1204,114.8 1209.5,112.2 1214.9,109.8 1220.3,107.7 1225.7,105.9 1231.1,104.3 1236.5,103 1242,102 1247.4,101.3 1252.8,100.9 1258.2,100.8 1263.6,100.9 1269,101.4 1274.5,102.2 1279.9,103.3 1285.3,104.7 1290.7,106.3 1296.1,108.3 1301.5,110.4 1306.9,112.8 1312.4,115.5 1317.8,118.3 1323.2,121.3 1328.6,124.5 1334,127.9 1339.4,131.4 1344.9,134.9 1350.3,138.6 1355.7,142.4 1361.1,146.2 1366.5,150 1371.9,153.8 1377.3,157.7 1382.8,161.5 1388.2,165.2 1393.6,169 1399,172.6 1404.4,176.2 1409.8,179.7 1415.3,183 1420.7,186.3 1426.1,189.5 1431.5,192.5 1436.9,195.4 1442.3,198.2 1447.8,200.8 1453.2,203.3 1458.6,205.7 1464,207.9" fill="none" stroke="#7d1417" stroke-width="3.7" stroke-linecap="butt" stroke-linejoin="round"/>
<polyline points="1510.1,266.2 1511.5,271.4 1513,276.7 1514.6,281.9 1516.3,287.1 1518.2,292.4 1520.3,297.6 1522.5,302.8 1524.8,308.1 1527.3,313.3 1529.8,318.6 1532.6,323.8 1535.4,329 1538.4,334.3 1541.5,339.5 1544.6,344.7 1547.8,350 1551.1,355.2 1554.4,360.4 1557.8,365.7 1561.1,370.9 1564.4,376.1 1567.7,381.4 1570.9,386.6 1574,391.8 1577,397.1 1579.8,402.3 1582.4,407.5 1584.9,412.8 1587.1,418 1589.1,423.2 1590.8,428.5 1592.3,433.7 1593.4,439 1594.3,444.2 1594.9,449.4 1595.1,454.7 1595,459.9 1594.6,465.1 1593.9,470.4 1592.9,475.6 1591.6,480.8 1590,486.1 1588.1,491.3 1586,496.5 1583.7,501.8 1581.2,507 1578.4,512.2 1575.5,517.5 1572.5,522.7 1569.4,528 1566.1,533.2 1562.8,538.4 1559.5,543.7 1556.2,548.9 1552.8,554.1 1549.5,559.4 1546.3,564.6 1543.1,569.8 1539.9,575.1 1536.9,580.3 1534,585.5 1531.2,590.8 1528.6,596 1526,601.2 1523.6,606.5 1521.4,611.7 1519.3,616.9 1517.3,622.2 1515.5,627.4 1513.8,632.6 1512.2,637.9 1510.8,643.1 1509.5,648.4 1508.3,653.6 1507.2,658.8 1506.2,664.1 1505.3,669.3 1504.6,674.5 1503.9,679.8 1503.2,685" fill="none" stroke="#7d1417" stroke-width="3.7" stroke-linecap="butt" stroke-linejoin="round"/>
<g fill="#ed1c24">
<circle cx="1095.6" cy="259.5" r="6.3"/>
<circle cx="1109.1" cy="255.8" r="6.3"/>
<circle cx="1104.9" cy="267.8" r="6.3"/>
<circle cx="1113.3" cy="267" r="6.3"/>
<circle cx="1144.3" cy="260.6" r="6.3"/>
<circle cx="1081.8" cy="280.8" r="6.3"/>
<circle cx="1069.3" cy="291.8" r="6.3"/>
<circle cx="1127.4" cy="285.5" r="6.3"/>
<circle cx="1200.6" cy="305" r="6.3"/>
<circle cx="1218.6" cy="310.1" r="6.3"/>
<circle cx="1171.7" cy="309.8" r="6.3"/>
<circle cx="1178.1" cy="313.8" r="6.3"/>
<circle cx="1143.3" cy="313.2" r="6.3"/>
<circle cx="1129.3" cy="319.3" r="6.3"/>
<circle cx="1135.8" cy="320.3" r="6.3"/>
<circle cx="1107.9" cy="330.8" r="6.3"/>
<circle cx="1029.2" cy="340.6" r="6.3"/>
<circle cx="1020.2" cy="345.4" r="6.3"/>
<circle cx="1060.3" cy="345.8" r="6.3"/>
<circle cx="1165.8" cy="347" r="6.3"/>
<circle cx="1169.1" cy="357.1" r="6.3"/>
<circle cx="1245.6" cy="348.4" r="6.3"/>
<circle cx="1105.3" cy="365.8" r="6.3"/>
<circle cx="1131.3" cy="362.5" r="6.3"/>
<circle cx="1156.6" cy="362.2" r="6.3"/>
<circle cx="1183.8" cy="366.4" r="6.3"/>
<circle cx="1191.3" cy="367.1" r="6.3"/>
<circle cx="1223.1" cy="359.3" r="6.3"/>
<circle cx="1230.6" cy="360.1" r="6.3"/>
<circle cx="1231.4" cy="363.1" r="6.3"/>
<circle cx="1213.4" cy="367.9" r="6.3"/>
<circle cx="1206.9" cy="373.1" r="6.3"/>
<circle cx="1155.3" cy="391.9" r="6.3"/>
<circle cx="1250.2" cy="385.6" r="6.3"/>
<circle cx="1203.3" cy="401.7" r="6.3"/>
<circle cx="1220.6" cy="411.6" r="6.3"/>
<circle cx="1134.6" cy="408.6" r="6.3"/>
<circle cx="1073" cy="412.6" r="6.3"/>
<circle cx="1104.6" cy="420.6" r="6.3"/>
<circle cx="1173.2" cy="428.7" r="6.3"/>
<circle cx="1188.6" cy="427.6" r="6.3"/>
<circle cx="1179.3" cy="436.6" r="6.3"/>
<circle cx="1154.8" cy="438.4" r="6.3"/>
<circle cx="1215.9" cy="427.3" r="6.3"/>
<circle cx="1228.4" cy="428.7" r="6.3"/>
<circle cx="1241.4" cy="426.9" r="6.3"/>
<circle cx="1243.4" cy="434.4" r="6.3"/>
<circle cx="1215.6" cy="435.1" r="6.3"/>
<circle cx="1206.9" cy="436.6" r="6.3"/>
<circle cx="1208.9" cy="450.6" r="6.3"/>
<circle cx="1245.6" cy="450.9" r="6.3"/>
<circle cx="1218.6" cy="459.1" r="6.3"/>
<circle cx="1214.1" cy="462.9" r="6.3"/>
<circle cx="1232.1" cy="459.9" r="6.3"/>
<circle cx="1187.9" cy="466.9" r="6.3"/>
<circle cx="1196.9" cy="467.4" r="6.3"/>
<circle cx="1249.4" cy="468.1" r="6.3"/>
<circle cx="1241.1" cy="474.1" r="6.3"/>
<circle cx="1274.3" cy="368" r="6.3"/>
<circle cx="1290.5" cy="395.3" r="6.3"/>
<circle cx="1307.3" cy="409.6" r="6.3"/>
<circle cx="1315.2" cy="408.4" r="6.3"/>
<circle cx="1262.3" cy="417.9" r="6.3"/>
<circle cx="1406.6" cy="433.3" r="6.3"/>
<circle cx="1407.1" cy="443.7" r="6.3"/>
<circle cx="1320.8" cy="442.6" r="6.3"/>
<circle cx="1281.5" cy="447.4" r="6.3"/>
<circle cx="1264.5" cy="454.6" r="6.3"/>
<circle cx="1366.3" cy="452.8" r="6.3"/>
<circle cx="1440.9" cy="449.8" r="6.3"/>
<circle cx="1474.3" cy="460.3" r="6.3"/>
<circle cx="1296" cy="460.6" r="6.3"/>
<circle cx="1306.8" cy="459.1" r="6.3"/>
<circle cx="1303.5" cy="465.1" r="6.3"/>
<circle cx="1343.3" cy="463.6" r="6.3"/>
<circle cx="1379.3" cy="459.9" r="6.3"/>
<circle cx="1384.6" cy="465.1" r="6.3"/>
<circle cx="1399.6" cy="463.2" r="6.3"/>
<circle cx="1369.9" cy="466.9" r="6.3"/>
<circle cx="1328.7" cy="468.9" r="6.3"/>
<circle cx="1350.1" cy="472.6" r="6.3"/>
<circle cx="1266.8" cy="466.9" r="6.3"/>
<circle cx="1256.3" cy="467.4" r="6.3"/>
<circle cx="1224.9" cy="479.3" r="6.3"/>
<circle cx="1189.4" cy="499" r="6.3"/>
<circle cx="1171.4" cy="506.8" r="6.3"/>
<circle cx="1244.4" cy="501.1" r="6.3"/>
<circle cx="1229.9" cy="525.8" r="6.3"/>
<circle cx="1228.8" cy="542.5" r="6.3"/>
<circle cx="1244.9" cy="545" r="6.3"/>
<circle cx="1281" cy="479" r="6.3"/>
<circle cx="1270.2" cy="487" r="6.3"/>
<circle cx="1320.5" cy="490.3" r="6.3"/>
<circle cx="1348.9" cy="477.2" r="6.3"/>
<circle cx="1398.1" cy="480.1" r="6.3"/>
<circle cx="1330.2" cy="515" r="6.3"/>
<circle cx="1344.1" cy="514.3" r="6.3"/>
<circle cx="1341.1" cy="518.8" r="6.3"/>
<circle cx="1350.8" cy="518" r="6.3"/>
<circle cx="1329.5" cy="524.8" r="6.3"/>
<circle cx="1263.8" cy="516.5" r="6.3"/>
<circle cx="1273.2" cy="517" r="6.3"/>
<circle cx="1256.3" cy="519.5" r="6.3"/>
<circle cx="1263" cy="520.3" r="6.3"/>
<circle cx="1369.6" cy="524.5" r="6.3"/>
<circle cx="1431.6" cy="526.3" r="6.3"/>
<circle cx="1396.3" cy="529" r="6.3"/>
<circle cx="1386.4" cy="533.3" r="6.3"/>
<circle cx="1269.8" cy="530.8" r="6.3"/>
<circle cx="1267.5" cy="534.5" r="6.3"/>
<circle cx="1263.8" cy="537.5" r="6.3"/>
<circle cx="1260" cy="545.8" r="6.3"/>
<circle cx="1313.3" cy="541.3" r="6.3"/>
<circle cx="1304.7" cy="550.6" r="6.3"/>
<circle cx="1337" cy="543.1" r="6.3"/>
<circle cx="1368.1" cy="539.3" r="6.3"/>
<circle cx="1378.6" cy="541.7" r="6.3"/>
<circle cx="1402.1" cy="547.3" r="6.3"/>
<circle cx="1425.9" cy="550.7" r="6.3"/>
<circle cx="1440.1" cy="559.6" r="6.3"/>
<circle cx="1355.3" cy="556.6" r="6.3"/>
<circle cx="1332.8" cy="567.1" r="6.3"/>
<circle cx="1410.8" cy="568.8" r="6.3"/>
<circle cx="1279.2" cy="570.3" r="6.3"/>
<circle cx="1283.3" cy="587.8" r="6.3"/>
<circle cx="1294.8" cy="592.8" r="6.3"/>
<circle cx="1305.8" cy="612.9" r="6.3"/>
<circle cx="1392.4" cy="609.6" r="6.3"/>
<circle cx="1368.1" cy="648.6" r="6.3"/>
<circle cx="1318.1" cy="664.4" r="6.3"/>
<circle cx="1447.3" cy="666.6" r="6.3"/>
<circle cx="1440.1" cy="695.4" r="6.3"/>
</g>
<line x1="1257.8" y1="57" x2="1257.8" y2="718.4" stroke="#a3399a" stroke-width="3.7" stroke-linecap="butt"/>
<line x1="995.8" y1="450.6" x2="1674.4" y2="450.6" stroke="#a3399a" stroke-width="3.7" stroke-linecap="butt"/>
<line x1="995.8" y1="57" x2="995.8" y2="719.8" stroke="#333333" stroke-width="2.8" stroke-linecap="butt"/>
<line x1="994.4" y1="232.5" x2="1500.6" y2="232.5" stroke="#333333" stroke-width="2.8" stroke-linecap="butt"/>
<line x1="1499.2" y1="232.5" x2="1499.2" y2="719.8" stroke="#333333" stroke-width="2.8" stroke-linecap="butt"/>
<line x1="995.8" y1="718.4" x2="1675.3" y2="718.4" stroke="#333333" stroke-width="2.8" stroke-linecap="butt"/>
<line x1="995.8" y1="113.8" x2="1002.8" y2="113.8" stroke="#333333" stroke-width="2.5" stroke-linecap="butt"/>
<text transform="translate(988 122.7) scale(1 1.03)" font-size="29.9" text-anchor="end" fill="#111" >10</text>
<line x1="995.8" y1="652.4" x2="1002.8" y2="652.4" stroke="#333333" stroke-width="2.5" stroke-linecap="butt"/>
<text transform="translate(988.2 661.3) scale(1 1.03)" font-size="29.9" text-anchor="end" fill="#111" >38</text>
<line x1="995.8" y1="554.4" x2="1002.8" y2="554.4" stroke="#333333" stroke-width="2.5" stroke-linecap="butt"/>
<text transform="translate(988.2 563.3) scale(1 1.03)" font-size="29.9" text-anchor="end" fill="#111" >40</text>
<line x1="995.8" y1="456.4" x2="1002.8" y2="456.4" stroke="#333333" stroke-width="2.5" stroke-linecap="butt"/>
<text transform="translate(988.2 465.3) scale(1 1.03)" font-size="29.9" text-anchor="end" fill="#111" >42</text>
<line x1="995.8" y1="358.4" x2="1002.8" y2="358.4" stroke="#333333" stroke-width="2.5" stroke-linecap="butt"/>
<text transform="translate(988.2 367.3) scale(1 1.03)" font-size="29.9" text-anchor="end" fill="#111" >44</text>
<line x1="995.8" y1="260.4" x2="1002.8" y2="260.4" stroke="#333333" stroke-width="2.5" stroke-linecap="butt"/>
<text transform="translate(988.2 269.3) scale(1 1.03)" font-size="29.9" text-anchor="end" fill="#111" >46</text>
<line x1="1061.8" y1="718.4" x2="1061.8" y2="711.4" stroke="#333333" stroke-width="2.5" stroke-linecap="butt"/>
<text transform="translate(1061.8 752) scale(1 1.03)" font-size="29.9" text-anchor="middle" fill="#111" >60</text>
<line x1="1177.2" y1="718.4" x2="1177.2" y2="711.4" stroke="#333333" stroke-width="2.5" stroke-linecap="butt"/>
<text transform="translate(1177.2 752) scale(1 1.03)" font-size="29.9" text-anchor="middle" fill="#111" >62</text>
<line x1="1292.7" y1="718.4" x2="1292.7" y2="711.4" stroke="#333333" stroke-width="2.5" stroke-linecap="butt"/>
<text transform="translate(1292.7 752) scale(1 1.03)" font-size="29.9" text-anchor="middle" fill="#111" >64</text>
<line x1="1408.1" y1="718.4" x2="1408.1" y2="711.4" stroke="#333333" stroke-width="2.5" stroke-linecap="butt"/>
<text transform="translate(1408.1 752) scale(1 1.03)" font-size="29.9" text-anchor="middle" fill="#111" >66</text>
<line x1="1574.8" y1="718.4" x2="1574.8" y2="711.4" stroke="#333333" stroke-width="2.5" stroke-linecap="butt"/>
<text transform="translate(1575.2 752) scale(1 1.03)" font-size="29.9" text-anchor="middle" fill="#111" >10</text>
<text transform="translate(1586 791.3) scale(1 1.03)" font-size="29.9" text-anchor="middle" fill="#111" >Counts</text>
<text transform="translate(1251 791.3) scale(1 1.03)" font-size="29.9" text-anchor="middle" fill="#111" >Width <tspan font-style="italic">b</tspan> (nm)</text>
<text transform="translate(933.7 475.5) rotate(-90) scale(1 1.03)" font-size="29.9" text-anchor="middle" fill="#111">Gap size <tspan font-style="italic">gap</tspan> (nm)</text>
<text transform="translate(933.7 145.6) rotate(-90) scale(1 1.03)" font-size="29.9" text-anchor="middle" fill="#111">Counts</text>
<text transform="translate(1226 32) scale(1 1.03)" font-size="29.9" text-anchor="start" fill="#a3399a" ><tspan font-style="italic">b</tspan><tspan font-size="17" dy="9.3">mean</tspan></text>
<text transform="translate(1701 404.6) rotate(90) scale(1 1.03)" font-size="29.9" text-anchor="start" fill="#a3399a"><tspan font-style="italic">gap</tspan><tspan font-size="17" dy="12">mean</tspan></text>
<text transform="translate(898.3 28.7) scale(1 1.03)" font-size="36" text-anchor="start" fill="#111" font-weight="bold">B</text>
<rect x="1507.75" y="56" width="166.6" height="166.4" rx="9.5" fill="#e6e7e8" stroke="#ed1c24" stroke-width="2.6"/>
<clipPath id="cpu"><path d="M1534 109C1534.4 105.8 1537.6 101.3 1540.4 97.4C1543.2 93.5 1547 88.8 1550.9 85.7C1554.8 82.7 1559.4 81.1 1563.7 79.3C1568 77.6 1571.5 76.1 1576.5 75.3C1581.5 74.4 1588.1 73.8 1594 74.1C1599.8 74.4 1605.6 75.1 1611.4 77C1617.2 79 1623.5 82 1628.9 85.7C1634.3 89.5 1640.7 95.9 1644 99.7C1647.4 103.5 1648.7 105.7 1648.9 108.4C1649.1 111.2 1647.6 114.2 1645.2 116C1642.8 117.9 1637.8 119.9 1634.7 119.5C1631.6 119.1 1629.5 116.4 1626.6 113.7C1623.6 111 1620.7 105.6 1617.2 103.2C1613.8 100.8 1610.1 100.1 1605.6 99.1C1601.1 98.2 1595.3 97.1 1590.5 97.4C1585.6 97.7 1580.8 98.9 1576.5 100.9C1572.2 102.8 1568.5 106.1 1564.9 109C1561.2 111.9 1557.5 116.5 1554.4 118.3C1551.3 120.2 1548.9 120.6 1546.2 120.3C1543.5 120 1540.1 118.5 1538.1 116.6C1536 114.7 1533.6 112.2 1534 109Z"/></clipPath><clipPath id="cpl"><path d="M1527 148.6C1526.9 146.3 1527.6 145.9 1528.2 145.1C1528.8 144.3 1528.7 144.2 1530.5 144C1532.4 143.8 1536.4 143.9 1539.2 144C1542.1 144 1545.7 144.1 1547.4 144.3C1549 144.5 1548.7 144.4 1549.1 145.4C1549.6 146.3 1549.6 147.9 1550.3 149.8C1551 151.7 1551.4 153.7 1553.2 156.8C1555.1 159.9 1557.9 165 1561.4 168.4C1564.9 171.8 1569.7 175.5 1574.2 177.1C1578.6 178.8 1585.2 178.2 1588.1 178.3C1591 178.4 1590.3 177.3 1591.6 177.7C1593 178.1 1594 180.2 1596.3 180.6C1598.6 181 1602.1 181.1 1605.6 180C1609.1 179 1613.4 176.9 1617.2 174.2C1621.1 171.5 1626.1 167.4 1628.9 163.8C1631.7 160.1 1633 154.8 1634.1 152.1C1635.2 149.4 1635.1 148.5 1635.5 147.5C1636 146.4 1635 146.2 1636.8 145.8C1638.6 145.5 1643.4 145.4 1646.3 145.4C1649.3 145.4 1652.8 145.5 1654.5 145.8C1656.2 146.2 1656.2 146.5 1656.6 147.5C1657 148.4 1657.2 149 1656.8 151.5C1656.5 154 1656.2 158 1654.5 162.6C1652.8 167.1 1650 173.6 1646.3 178.9C1642.7 184.1 1638.2 189.8 1632.4 194C1626.6 198.3 1618.4 202.3 1611.4 204.5C1604.4 206.7 1597.5 207.4 1590.5 207.1C1583.5 206.7 1576.1 204.9 1569.5 202.2C1562.9 199.4 1556.5 195.4 1550.9 190.5C1545.3 185.7 1539.4 178.3 1535.7 173.1C1532.1 167.8 1530.2 163.2 1528.8 159.1C1527.3 155 1527.1 150.9 1527 148.6Z"/></clipPath>
<path d="M1534 109C1534.4 105.8 1537.6 101.3 1540.4 97.4C1543.2 93.5 1547 88.8 1550.9 85.7C1554.8 82.7 1559.4 81.1 1563.7 79.3C1568 77.6 1571.5 76.1 1576.5 75.3C1581.5 74.4 1588.1 73.8 1594 74.1C1599.8 74.4 1605.6 75.1 1611.4 77C1617.2 79 1623.5 82 1628.9 85.7C1634.3 89.5 1640.7 95.9 1644 99.7C1647.4 103.5 1648.7 105.7 1648.9 108.4C1649.1 111.2 1647.6 114.2 1645.2 116C1642.8 117.9 1637.8 119.9 1634.7 119.5C1631.6 119.1 1629.5 116.4 1626.6 113.7C1623.6 111 1620.7 105.6 1617.2 103.2C1613.8 100.8 1610.1 100.1 1605.6 99.1C1601.1 98.2 1595.3 97.1 1590.5 97.4C1585.6 97.7 1580.8 98.9 1576.5 100.9C1572.2 102.8 1568.5 106.1 1564.9 109C1561.2 111.9 1557.5 116.5 1554.4 118.3C1551.3 120.2 1548.9 120.6 1546.2 120.3C1543.5 120 1540.1 118.5 1538.1 116.6C1536 114.7 1533.6 112.2 1534 109Z" fill="#f7f7f7"/>
<g clip-path="url(#cpu)"><path d="M1543.9 110.2C1546.6 107.7 1554.8 98.8 1560.2 95.1C1565.6 91.3 1571.3 89 1576.5 87.5C1581.7 85.9 1586.6 85.7 1591.6 85.7C1596.7 85.7 1601.7 86.1 1606.8 87.5C1611.8 88.9 1616.5 90.3 1621.9 93.9C1627.3 97.5 1636.5 106.5 1639.4 109" fill="none" stroke="#bdbdbd" stroke-width="13" stroke-linecap="round" filter="url(#sft)"/></g>
<path d="M1534 109C1534.4 105.8 1537.6 101.3 1540.4 97.4C1543.2 93.5 1547 88.8 1550.9 85.7C1554.8 82.7 1559.4 81.1 1563.7 79.3C1568 77.6 1571.5 76.1 1576.5 75.3C1581.5 74.4 1588.1 73.8 1594 74.1C1599.8 74.4 1605.6 75.1 1611.4 77C1617.2 79 1623.5 82 1628.9 85.7C1634.3 89.5 1640.7 95.9 1644 99.7C1647.4 103.5 1648.7 105.7 1648.9 108.4C1649.1 111.2 1647.6 114.2 1645.2 116C1642.8 117.9 1637.8 119.9 1634.7 119.5C1631.6 119.1 1629.5 116.4 1626.6 113.7C1623.6 111 1620.7 105.6 1617.2 103.2C1613.8 100.8 1610.1 100.1 1605.6 99.1C1601.1 98.2 1595.3 97.1 1590.5 97.4C1585.6 97.7 1580.8 98.9 1576.5 100.9C1572.2 102.8 1568.5 106.1 1564.9 109C1561.2 111.9 1557.5 116.5 1554.4 118.3C1551.3 120.2 1548.9 120.6 1546.2 120.3C1543.5 120 1540.1 118.5 1538.1 116.6C1536 114.7 1533.6 112.2 1534 109Z" fill="none" stroke="#1c1c1c" stroke-width="0.95" stroke-dasharray="3.4 1.2"/>
<path d="M1527 148.6C1526.9 146.3 1527.6 145.9 1528.2 145.1C1528.8 144.3 1528.7 144.2 1530.5 144C1532.4 143.8 1536.4 143.9 1539.2 144C1542.1 144 1545.7 144.1 1547.4 144.3C1549 144.5 1548.7 144.4 1549.1 145.4C1549.6 146.3 1549.6 147.9 1550.3 149.8C1551 151.7 1551.4 153.7 1553.2 156.8C1555.1 159.9 1557.9 165 1561.4 168.4C1564.9 171.8 1569.7 175.5 1574.2 177.1C1578.6 178.8 1585.2 178.2 1588.1 178.3C1591 178.4 1590.3 177.3 1591.6 177.7C1593 178.1 1594 180.2 1596.3 180.6C1598.6 181 1602.1 181.1 1605.6 180C1609.1 179 1613.4 176.9 1617.2 174.2C1621.1 171.5 1626.1 167.4 1628.9 163.8C1631.7 160.1 1633 154.8 1634.1 152.1C1635.2 149.4 1635.1 148.5 1635.5 147.5C1636 146.4 1635 146.2 1636.8 145.8C1638.6 145.5 1643.4 145.4 1646.3 145.4C1649.3 145.4 1652.8 145.5 1654.5 145.8C1656.2 146.2 1656.2 146.5 1656.6 147.5C1657 148.4 1657.2 149 1656.8 151.5C1656.5 154 1656.2 158 1654.5 162.6C1652.8 167.1 1650 173.6 1646.3 178.9C1642.7 184.1 1638.2 189.8 1632.4 194C1626.6 198.3 1618.4 202.3 1611.4 204.5C1604.4 206.7 1597.5 207.4 1590.5 207.1C1583.5 206.7 1576.1 204.9 1569.5 202.2C1562.9 199.4 1556.5 195.4 1550.9 190.5C1545.3 185.7 1539.4 178.3 1535.7 173.1C1532.1 167.8 1530.2 163.2 1528.8 159.1C1527.3 155 1527.1 150.9 1527 148.6Z" fill="#f7f7f7"/>
<g clip-path="url(#cpl)"><path d="M1538.1 149.8C1539 152.1 1540.2 158.2 1543.9 163.8C1547.6 169.3 1554.8 178.5 1560.2 183C1565.6 187.4 1571.5 188.9 1576.5 190.5C1581.5 192.2 1585.4 192.9 1590.5 192.9C1595.5 192.9 1601.5 192.2 1606.8 190.5C1612 188.9 1616.5 187.2 1621.9 183C1627.3 178.7 1635.4 170.4 1639.4 164.9C1643.3 159.4 1644.7 152.3 1645.8 149.8" fill="none" stroke="#bdbdbd" stroke-width="13" stroke-linecap="round" filter="url(#sft)"/></g>
<path d="M1527 148.6C1526.9 146.3 1527.6 145.9 1528.2 145.1C1528.8 144.3 1528.7 144.2 1530.5 144C1532.4 143.8 1536.4 143.9 1539.2 144C1542.1 144 1545.7 144.1 1547.4 144.3C1549 144.5 1548.7 144.4 1549.1 145.4C1549.6 146.3 1549.6 147.9 1550.3 149.8C1551 151.7 1551.4 153.7 1553.2 156.8C1555.1 159.9 1557.9 165 1561.4 168.4C1564.9 171.8 1569.7 175.5 1574.2 177.1C1578.6 178.8 1585.2 178.2 1588.1 178.3C1591 178.4 1590.3 177.3 1591.6 177.7C1593 178.1 1594 180.2 1596.3 180.6C1598.6 181 1602.1 181.1 1605.6 180C1609.1 179 1613.4 176.9 1617.2 174.2C1621.1 171.5 1626.1 167.4 1628.9 163.8C1631.7 160.1 1633 154.8 1634.1 152.1C1635.2 149.4 1635.1 148.5 1635.5 147.5C1636 146.4 1635 146.2 1636.8 145.8C1638.6 145.5 1643.4 145.4 1646.3 145.4C1649.3 145.4 1652.8 145.5 1654.5 145.8C1656.2 146.2 1656.2 146.5 1656.6 147.5C1657 148.4 1657.2 149 1656.8 151.5C1656.5 154 1656.2 158 1654.5 162.6C1652.8 167.1 1650 173.6 1646.3 178.9C1642.7 184.1 1638.2 189.8 1632.4 194C1626.6 198.3 1618.4 202.3 1611.4 204.5C1604.4 206.7 1597.5 207.4 1590.5 207.1C1583.5 206.7 1576.1 204.9 1569.5 202.2C1562.9 199.4 1556.5 195.4 1550.9 190.5C1545.3 185.7 1539.4 178.3 1535.7 173.1C1532.1 167.8 1530.2 163.2 1528.8 159.1C1527.3 155 1527.1 150.9 1527 148.6Z" fill="none" stroke="#1c1c1c" stroke-width="0.95" stroke-dasharray="3.4 1.2"/>
<circle cx="1660.5" cy="72.5" r="0.8" fill="#333"/>
<rect x="455" y="892" width="77.5" height="174.3" fill="#d9d9db"/>
<rect x="1102.5" y="891.5" width="73.2" height="174.8" fill="#d9d9db"/>
<rect x="1271.4" y="1257.6" width="173" height="176.2" fill="#d9d9db"/>
<rect x="373" y="1057.1" width="8.2" height="9.2" fill="#3953a4"/>
<rect x="396.1" y="1057.1" width="8.2" height="9.2" fill="#3953a4"/>
<rect x="419.1" y="1048" width="8.2" height="18.4" fill="#3953a4"/>
<rect x="430.6" y="1011.2" width="8.2" height="55.1" fill="#3953a4"/>
<rect x="442.2" y="992.9" width="8.2" height="73.4" fill="#3953a4"/>
<rect x="453.7" y="965.4" width="8.2" height="100.9" fill="#3953a4"/>
<rect x="465.2" y="983.7" width="8.2" height="82.6" fill="#3953a4"/>
<rect x="476.8" y="919.5" width="8.2" height="146.8" fill="#3953a4"/>
<rect x="488.3" y="919.5" width="8.2" height="146.8" fill="#3953a4"/>
<rect x="499.8" y="919.5" width="8.2" height="146.8" fill="#3953a4"/>
<rect x="511.4" y="937.8" width="8.2" height="128.5" fill="#3953a4"/>
<rect x="522.9" y="919.5" width="8.2" height="146.8" fill="#3953a4"/>
<rect x="534.4" y="1002.1" width="8.2" height="64.2" fill="#3953a4"/>
<rect x="546" y="1038.8" width="8.2" height="27.5" fill="#3953a4"/>
<rect x="557.5" y="1048" width="8.2" height="18.4" fill="#3953a4"/>
<rect x="569" y="1038.8" width="8.2" height="27.5" fill="#3953a4"/>
<rect x="592.1" y="1057.1" width="8.2" height="9.2" fill="#3953a4"/>
<rect x="1043" y="1057.1" width="6.2" height="9.2" fill="#3953a4"/>
<rect x="1051.8" y="1048" width="6.2" height="18.4" fill="#3953a4"/>
<rect x="1060.6" y="1057.1" width="6.2" height="9.2" fill="#3953a4"/>
<rect x="1069.3" y="1057.1" width="6.2" height="9.2" fill="#3953a4"/>
<rect x="1078.1" y="1057.1" width="6.2" height="9.2" fill="#3953a4"/>
<rect x="1086.9" y="974.5" width="6.2" height="91.8" fill="#3953a4"/>
<rect x="1095.7" y="1029.6" width="6.2" height="36.7" fill="#3953a4"/>
<rect x="1104.5" y="992.9" width="6.2" height="73.4" fill="#3953a4"/>
<rect x="1113.2" y="956.2" width="6.2" height="110.1" fill="#3953a4"/>
<rect x="1122" y="992.9" width="6.2" height="73.4" fill="#3953a4"/>
<rect x="1130.8" y="937.8" width="6.2" height="128.5" fill="#3953a4"/>
<rect x="1139.6" y="901.1" width="6.2" height="165.2" fill="#3953a4"/>
<rect x="1148.4" y="937.8" width="6.2" height="128.5" fill="#3953a4"/>
<rect x="1157.1" y="974.5" width="6.2" height="91.8" fill="#3953a4"/>
<rect x="1165.9" y="1002.1" width="6.2" height="64.2" fill="#3953a4"/>
<rect x="1174.7" y="1057.1" width="6.2" height="9.2" fill="#3953a4"/>
<rect x="1183.5" y="1011.2" width="6.2" height="55.1" fill="#3953a4"/>
<rect x="1192.3" y="992.9" width="6.2" height="73.4" fill="#3953a4"/>
<rect x="1201" y="1029.6" width="6.2" height="36.7" fill="#3953a4"/>
<rect x="1209.8" y="1048" width="6.2" height="18.4" fill="#3953a4"/>
<rect x="1270.4" y="1092.9" width="11" height="17" fill="#3953a4"/>
<rect x="1270.4" y="1114.6" width="11" height="17" fill="#3953a4"/>
<rect x="1270.4" y="1136.4" width="11" height="17" fill="#3953a4"/>
<rect x="1270.4" y="1158.1" width="49.6" height="17" fill="#3953a4"/>
<rect x="1270.4" y="1179.9" width="49.6" height="17" fill="#3953a4"/>
<rect x="1270.4" y="1201.6" width="27.6" height="17" fill="#3953a4"/>
<rect x="1270.4" y="1223.3" width="44.1" height="17" fill="#3953a4"/>
<rect x="1270.4" y="1245.1" width="55.1" height="17" fill="#3953a4"/>
<rect x="1270.4" y="1266.8" width="55.1" height="17" fill="#3953a4"/>
<rect x="1270.4" y="1288.6" width="66.2" height="17" fill="#3953a4"/>
<rect x="1270.4" y="1310.3" width="148.9" height="17" fill="#3953a4"/>
<rect x="1270.4" y="1332" width="165.4" height="17" fill="#3953a4"/>
<rect x="1270.4" y="1353.8" width="132.4" height="17" fill="#3953a4"/>
<rect x="1270.4" y="1375.5" width="165.4" height="17" fill="#3953a4"/>
<rect x="1270.4" y="1397.3" width="132.4" height="17" fill="#3953a4"/>
<rect x="1270.4" y="1419" width="143.4" height="17" fill="#3953a4"/>
<rect x="1270.4" y="1440.7" width="115.8" height="17" fill="#3953a4"/>
<rect x="1270.4" y="1462.5" width="33.1" height="17" fill="#3953a4"/>
<rect x="1270.4" y="1484.2" width="16.5" height="17" fill="#3953a4"/>
<rect x="1270.4" y="1506" width="22.1" height="17" fill="#3953a4"/>
<polyline points="378.8,1064.5 381.5,1064.2 384.2,1063.8 387,1063.3 389.7,1062.8 392.4,1062.1 395.2,1061.3 397.9,1060.4 400.6,1059.3 403.4,1058 406.1,1056.6 408.8,1054.9 411.6,1053 414.3,1050.8 417,1048.3 419.8,1045.5 422.5,1042.5 425.2,1039 428,1035.3 430.7,1031.2 433.4,1026.7 436.2,1021.9 438.9,1016.8 441.6,1011.3 444.4,1005.6 447.1,999.6 449.8,993.3 452.6,986.9 455.3,980.4 458,973.8 460.8,967.2 463.5,960.7 466.2,954.3 469,948.1 471.7,942.3 474.5,936.8 477.2,931.8 479.9,927.3 482.7,923.4 485.4,920.1 488.1,917.5 490.9,915.7 493.6,914.6 496.3,914.3 499.1,914.8 501.8,916.1 504.5,918.1 507.3,920.8 510,924.2 512.7,928.3 515.5,932.9 518.2,938.1 520.9,943.6 523.7,949.6 526.4,955.8 529.1,962.2 531.9,968.8 534.6,975.4 537.3,982 540.1,988.5 542.8,994.9 545.5,1001 548.3,1007 551,1012.7 553.8,1018.1 556.5,1023.1 559.2,1027.8 562,1032.2 564.7,1036.2 567.4,1039.9 570.2,1043.2 572.9,1046.2 575.6,1048.9 578.4,1051.3 581.1,1053.5 583.8,1055.3 586.6,1056.9 589.3,1058.4 592,1059.6 594.8,1060.6 597.5,1061.5" fill="none" stroke="#21227c" stroke-width="3.5" stroke-linecap="butt" stroke-linejoin="round"/>
<polyline points="1043.8,1063.9 1045.9,1063.5 1048,1063 1050.2,1062.5 1052.3,1061.9 1054.4,1061.2 1056.6,1060.4 1058.7,1059.4 1060.8,1058.4 1063,1057.1 1065.1,1055.8 1067.2,1054.2 1069.4,1052.5 1071.5,1050.6 1073.6,1048.5 1075.8,1046.2 1077.9,1043.6 1080,1040.9 1082.2,1037.9 1084.3,1034.7 1086.4,1031.2 1088.6,1027.6 1090.7,1023.7 1092.8,1019.6 1095,1015.4 1097.1,1010.9 1099.2,1006.4 1101.4,1001.7 1103.5,997 1105.6,992.2 1107.8,987.4 1109.9,982.6 1112,978 1114.2,973.4 1116.3,969 1118.5,964.9 1120.6,961 1122.7,957.3 1124.9,954.1 1127,951.2 1129.1,948.7 1131.3,946.7 1133.4,945.2 1135.5,944.1 1137.7,943.6 1139.8,943.5 1141.9,944 1144.1,945 1146.2,946.5 1148.3,948.4 1150.5,950.8 1152.6,953.6 1154.7,956.8 1156.9,960.4 1159,964.2 1161.1,968.3 1163.3,972.7 1165.4,977.2 1167.5,981.9 1169.7,986.6 1171.8,991.4 1173.9,996.2 1176.1,1001 1178.2,1005.7 1180.3,1010.2 1182.5,1014.7 1184.6,1019 1186.8,1023.1 1188.9,1027 1191,1030.7 1193.2,1034.1 1195.3,1037.4 1197.4,1040.4 1199.6,1043.2 1201.7,1045.8 1203.8,1048.1 1206,1050.3 1208.1,1052.2 1210.2,1054 1212.4,1055.5 1214.5,1056.9" fill="none" stroke="#21227c" stroke-width="3.5" stroke-linecap="butt" stroke-linejoin="round"/>
<polyline points="1270.7,1095 1270.8,1100.2 1270.9,1105.5 1271,1110.8 1271.2,1116 1271.4,1121.2 1271.6,1126.5 1271.9,1131.8 1272.2,1137 1272.6,1142.2 1273.1,1147.5 1273.6,1152.8 1274.3,1158 1275.1,1163.2 1276,1168.5 1277,1173.8 1278.3,1179 1279.7,1184.2 1281.2,1189.5 1283.1,1194.8 1285.1,1200 1287.4,1205.2 1290,1210.5 1292.9,1215.8 1296,1221 1299.5,1226.2 1303.3,1231.5 1307.4,1236.8 1311.8,1242 1316.6,1247.2 1321.6,1252.5 1327,1257.8 1332.6,1263 1338.5,1268.2 1344.6,1273.5 1350.9,1278.8 1357.3,1284 1363.8,1289.2 1370.3,1294.5 1376.8,1299.8 1383.2,1305 1389.4,1310.2 1395.4,1315.5 1401.1,1320.8 1406.4,1326 1411.3,1331.2 1415.6,1336.5 1419.5,1341.8 1422.7,1347 1425.3,1352.2 1427.3,1357.5 1428.5,1362.8 1429,1368 1428.7,1373.2 1427.7,1378.5 1426,1383.8 1423.5,1389 1420.3,1394.2 1416.5,1399.5 1412.1,1404.8 1407.1,1410 1401.7,1415.2 1395.9,1420.5 1389.8,1425.8 1383.4,1431 1376.8,1436.2 1370.2,1441.5 1363.5,1446.8 1356.8,1452 1350.2,1457.2 1343.8,1462.5 1337.5,1467.8 1331.5,1473 1325.8,1478.2 1320.3,1483.5 1315.2,1488.8 1310.4,1494 1305.9,1499.2 1301.8,1504.5 1298,1509.8 1294.6,1515" fill="none" stroke="#21227c" stroke-width="3.5" stroke-linecap="butt" stroke-linejoin="round"/>
<g fill="#3953a4">
<circle cx="523.1" cy="1201" r="6.3"/>
<circle cx="509.3" cy="1228" r="6.3"/>
<circle cx="532.9" cy="1227.3" r="6.3"/>
<circle cx="476.8" cy="1252" r="6.3"/>
<circle cx="465.1" cy="1261" r="6.3"/>
<circle cx="535.3" cy="1261" r="6.3"/>
<circle cx="507.1" cy="1273.1" r="6.3"/>
<circle cx="498.8" cy="1281.3" r="6.3"/>
<circle cx="508.3" cy="1288.8" r="6.3"/>
<circle cx="466.3" cy="1285.1" r="6.3"/>
<circle cx="480.5" cy="1288.4" r="6.3"/>
<circle cx="462.1" cy="1295.9" r="6.3"/>
<circle cx="545.4" cy="1298.6" r="6.3"/>
<circle cx="450.1" cy="1310.3" r="6.3"/>
<circle cx="440.3" cy="1316.9" r="6.3"/>
<circle cx="468.5" cy="1316.3" r="6.3"/>
<circle cx="479.6" cy="1313.6" r="6.3"/>
<circle cx="522.8" cy="1311" r="6.3"/>
<circle cx="511.9" cy="1316.9" r="6.3"/>
<circle cx="504.8" cy="1322.9" r="6.3"/>
<circle cx="489.1" cy="1327.8" r="6.3"/>
<circle cx="521.3" cy="1326.3" r="6.3"/>
<circle cx="530.3" cy="1324.8" r="6.3"/>
<circle cx="538.9" cy="1327.4" r="6.3"/>
<circle cx="519.1" cy="1330.1" r="6.3"/>
<circle cx="523.6" cy="1334.6" r="6.3"/>
<circle cx="443" cy="1333.1" r="6.3"/>
<circle cx="458.3" cy="1340.6" r="6.3"/>
<circle cx="483.1" cy="1340.6" r="6.3"/>
<circle cx="500.3" cy="1336.8" r="6.3"/>
<circle cx="507.8" cy="1339.8" r="6.3"/>
<circle cx="514.6" cy="1342.8" r="6.3"/>
<circle cx="523.6" cy="1341.3" r="6.3"/>
<circle cx="528.1" cy="1348.8" r="6.3"/>
<circle cx="558.4" cy="1340.9" r="6.3"/>
<circle cx="501.8" cy="1345.1" r="6.3"/>
<circle cx="498.1" cy="1352.6" r="6.3"/>
<circle cx="504.8" cy="1356.4" r="6.3"/>
<circle cx="504.1" cy="1362.4" r="6.3"/>
<circle cx="558.1" cy="1355.6" r="6.3"/>
<circle cx="455.3" cy="1354.9" r="6.3"/>
<circle cx="462.1" cy="1360.9" r="6.3"/>
<circle cx="473.3" cy="1362.8" r="6.3"/>
<circle cx="371.7" cy="1364.2" r="6.3"/>
<circle cx="430.5" cy="1369.1" r="6.3"/>
<circle cx="519.8" cy="1362.4" r="6.3"/>
<circle cx="517.6" cy="1368.4" r="6.3"/>
<circle cx="570.1" cy="1370.6" r="6.3"/>
<circle cx="499.6" cy="1373.6" r="6.3"/>
<circle cx="447.8" cy="1378.1" r="6.3"/>
<circle cx="578.8" cy="1381.6" r="6.3"/>
<circle cx="513.4" cy="1381.1" r="6.3"/>
<circle cx="526.9" cy="1382.2" r="6.3"/>
<circle cx="549.9" cy="1384.6" r="6.3"/>
<circle cx="536.4" cy="1387.9" r="6.3"/>
<circle cx="543.9" cy="1393.9" r="6.3"/>
<circle cx="458.3" cy="1385.6" r="6.3"/>
<circle cx="426.8" cy="1388.3" r="6.3"/>
<circle cx="484.6" cy="1381.9" r="6.3"/>
<circle cx="489.1" cy="1382.6" r="6.3"/>
<circle cx="480.1" cy="1386.8" r="6.3"/>
<circle cx="487.6" cy="1391.6" r="6.3"/>
<circle cx="516.1" cy="1389.4" r="6.3"/>
<circle cx="519.8" cy="1396.9" r="6.3"/>
<circle cx="509.3" cy="1396.9" r="6.3"/>
<circle cx="502.6" cy="1402.1" r="6.3"/>
<circle cx="462.1" cy="1396.1" r="6.3"/>
<circle cx="473.3" cy="1397.6" r="6.3"/>
<circle cx="480.8" cy="1402.9" r="6.3"/>
<circle cx="461.3" cy="1404.4" r="6.3"/>
<circle cx="475.6" cy="1406.6" r="6.3"/>
<circle cx="525.1" cy="1410.5" r="6.3"/>
<circle cx="516.8" cy="1413.5" r="6.3"/>
<circle cx="572.8" cy="1414" r="6.3"/>
<circle cx="423" cy="1419.2" r="6.3"/>
<circle cx="435.5" cy="1416.5" r="6.3"/>
<circle cx="445.5" cy="1415.8" r="6.3"/>
<circle cx="451.6" cy="1418.3" r="6.3"/>
<circle cx="460.6" cy="1418" r="6.3"/>
<circle cx="467.3" cy="1420.7" r="6.3"/>
<circle cx="522.8" cy="1418.3" r="6.3"/>
<circle cx="528.8" cy="1421.8" r="6.3"/>
<circle cx="519.1" cy="1424" r="6.3"/>
<circle cx="544.3" cy="1419.5" r="6.3"/>
<circle cx="524.3" cy="1427.8" r="6.3"/>
<circle cx="493.6" cy="1425.5" r="6.3"/>
<circle cx="483.1" cy="1428.5" r="6.3"/>
<circle cx="432" cy="1429.7" r="6.3"/>
<circle cx="548.4" cy="1430" r="6.3"/>
<circle cx="476.3" cy="1433" r="6.3"/>
<circle cx="487.6" cy="1433.8" r="6.3"/>
<circle cx="497.3" cy="1436.8" r="6.3"/>
<circle cx="455.8" cy="1433.8" r="6.3"/>
<circle cx="444" cy="1436" r="6.3"/>
<circle cx="543.9" cy="1438.3" r="6.3"/>
<circle cx="429.5" cy="1439.8" r="6.3"/>
<circle cx="480.1" cy="1439.8" r="6.3"/>
<circle cx="495.1" cy="1441.3" r="6.3"/>
<circle cx="514.6" cy="1440.5" r="6.3"/>
<circle cx="521.3" cy="1439" r="6.3"/>
<circle cx="534.1" cy="1444" r="6.3"/>
<circle cx="522.1" cy="1445.8" r="6.3"/>
<circle cx="452" cy="1445" r="6.3"/>
<circle cx="465.8" cy="1445" r="6.3"/>
<circle cx="468.1" cy="1451" r="6.3"/>
<circle cx="483.1" cy="1452.5" r="6.3"/>
<circle cx="473.3" cy="1457" r="6.3"/>
<circle cx="602.4" cy="1448.8" r="6.3"/>
<circle cx="495.8" cy="1463" r="6.3"/>
<circle cx="528.1" cy="1464.1" r="6.3"/>
<circle cx="402" cy="1469" r="6.3"/>
<circle cx="495.1" cy="1471.3" r="6.3"/>
<circle cx="483.8" cy="1483.6" r="6.3"/>
<circle cx="453.5" cy="1495.3" r="6.3"/>
<circle cx="494" cy="1499.1" r="6.3"/>
<circle cx="512.3" cy="1506.1" r="6.3"/>
<circle cx="524.6" cy="1507.3" r="6.3"/>
<circle cx="525.8" cy="1524.9" r="6.3"/>
<circle cx="1114.6" cy="1090.3" r="6.3"/>
<circle cx="1132.8" cy="1114.6" r="6.3"/>
<circle cx="1187.1" cy="1110.1" r="6.3"/>
<circle cx="1217.1" cy="1126.3" r="6.3"/>
<circle cx="1171" cy="1137.2" r="6.3"/>
<circle cx="1195.8" cy="1144.3" r="6.3"/>
<circle cx="1165.8" cy="1162.6" r="6.3"/>
<circle cx="1186.7" cy="1158.9" r="6.3"/>
<circle cx="1192.4" cy="1166.8" r="6.3"/>
<circle cx="1205.9" cy="1168.6" r="6.3"/>
<circle cx="1200.6" cy="1172.8" r="6.3"/>
<circle cx="1130.1" cy="1164.9" r="6.3"/>
<circle cx="1103.5" cy="1169.4" r="6.3"/>
<circle cx="1138.3" cy="1173.6" r="6.3"/>
<circle cx="1140.6" cy="1177.3" r="6.3"/>
<circle cx="1165.3" cy="1178.4" r="6.3"/>
<circle cx="1161.6" cy="1180.3" r="6.3"/>
<circle cx="1154.1" cy="1181.1" r="6.3"/>
<circle cx="1150.8" cy="1184.8" r="6.3"/>
<circle cx="1183.4" cy="1184.4" r="6.3"/>
<circle cx="1193.9" cy="1182.6" r="6.3"/>
<circle cx="1190.1" cy="1185.6" r="6.3"/>
<circle cx="1192.8" cy="1191.3" r="6.3"/>
<circle cx="1145.1" cy="1198.3" r="6.3"/>
<circle cx="1130.5" cy="1211.5" r="6.3"/>
<circle cx="1143.6" cy="1210.3" r="6.3"/>
<circle cx="1146.9" cy="1211.5" r="6.3"/>
<circle cx="1160.5" cy="1218.6" r="6.3"/>
<circle cx="1154.1" cy="1226.1" r="6.3"/>
<circle cx="1137.6" cy="1230.6" r="6.3"/>
<circle cx="1138.8" cy="1233.6" r="6.3"/>
<circle cx="1147.3" cy="1232.8" r="6.3"/>
<circle cx="1160.8" cy="1236.3" r="6.3"/>
<circle cx="1113.6" cy="1233.3" r="6.3"/>
<circle cx="1184.4" cy="1243.7" r="6.3"/>
<circle cx="1205.9" cy="1252.4" r="6.3"/>
<circle cx="1196.1" cy="1254.6" r="6.3"/>
<circle cx="1189.4" cy="1259.1" r="6.3"/>
<circle cx="1191.9" cy="1260.6" r="6.3"/>
<circle cx="1149.1" cy="1259.1" r="6.3"/>
<circle cx="1142.4" cy="1264.7" r="6.3"/>
<circle cx="1170.1" cy="1262.9" r="6.3"/>
<circle cx="1154.5" cy="1273.1" r="6.3"/>
<circle cx="1137.3" cy="1276.8" r="6.3"/>
<circle cx="1125.9" cy="1279.1" r="6.3"/>
<circle cx="1129.3" cy="1283.1" r="6.3"/>
<circle cx="1138.8" cy="1289.1" r="6.3"/>
<circle cx="1094" cy="1284.2" r="6.3"/>
<circle cx="1120.3" cy="1291.4" r="6.3"/>
<circle cx="1108.3" cy="1295.4" r="6.3"/>
<circle cx="1076.8" cy="1301.9" r="6.3"/>
<circle cx="1057.7" cy="1305.6" r="6.3"/>
<circle cx="1192.4" cy="1303.1" r="6.3"/>
<circle cx="1123.6" cy="1303.8" r="6.3"/>
<circle cx="1129.6" cy="1303.8" r="6.3"/>
<circle cx="1089.1" cy="1309.1" r="6.3"/>
<circle cx="1154.1" cy="1309.1" r="6.3"/>
<circle cx="1168.3" cy="1310.3" r="6.3"/>
<circle cx="1165.3" cy="1314" r="6.3"/>
<circle cx="1093.3" cy="1318.5" r="6.3"/>
<circle cx="1103.1" cy="1317.8" r="6.3"/>
<circle cx="1099.3" cy="1322.3" r="6.3"/>
<circle cx="1113.6" cy="1320.8" r="6.3"/>
<circle cx="1118.8" cy="1320.8" r="6.3"/>
<circle cx="1126.3" cy="1323.8" r="6.3"/>
<circle cx="1133.1" cy="1325.3" r="6.3"/>
<circle cx="1149.6" cy="1320.8" r="6.3"/>
<circle cx="1145.8" cy="1326.8" r="6.3"/>
<circle cx="1100.8" cy="1329.8" r="6.3"/>
<circle cx="1148.8" cy="1332.8" r="6.3"/>
<circle cx="1136.1" cy="1332" r="6.3"/>
<circle cx="1120.3" cy="1338.8" r="6.3"/>
<circle cx="1128.6" cy="1341.8" r="6.3"/>
<circle cx="1144.3" cy="1339.5" r="6.3"/>
<circle cx="1056.8" cy="1344" r="6.3"/>
<circle cx="1061" cy="1348.5" r="6.3"/>
<circle cx="1091" cy="1343.3" r="6.3"/>
<circle cx="1089.1" cy="1347.8" r="6.3"/>
<circle cx="1166.1" cy="1345.5" r="6.3"/>
<circle cx="1159.3" cy="1351.5" r="6.3"/>
<circle cx="1117.6" cy="1350" r="6.3"/>
<circle cx="1140.6" cy="1352.3" r="6.3"/>
<circle cx="1145.8" cy="1354.5" r="6.3"/>
<circle cx="1104.9" cy="1359.5" r="6.3"/>
<circle cx="1127.8" cy="1364.3" r="6.3"/>
<circle cx="1158.3" cy="1364.7" r="6.3"/>
<circle cx="1141.3" cy="1368.8" r="6.3"/>
<circle cx="1103.8" cy="1370.3" r="6.3"/>
<circle cx="1108.3" cy="1373.3" r="6.3"/>
<circle cx="1091" cy="1376.8" r="6.3"/>
<circle cx="1112.8" cy="1378.6" r="6.3"/>
<circle cx="1118.1" cy="1380.1" r="6.3"/>
<circle cx="1083.5" cy="1382.8" r="6.3"/>
<circle cx="1088" cy="1382.3" r="6.3"/>
<circle cx="1151.1" cy="1377.8" r="6.3"/>
<circle cx="1146.6" cy="1381.6" r="6.3"/>
<circle cx="1163.1" cy="1380.5" r="6.3"/>
<circle cx="1131.9" cy="1384.9" r="6.3"/>
<circle cx="1116.6" cy="1387.6" r="6.3"/>
<circle cx="1103.4" cy="1393.6" r="6.3"/>
<circle cx="1146.6" cy="1396.9" r="6.3"/>
<circle cx="1156.3" cy="1400.3" r="6.3"/>
<circle cx="1180.3" cy="1394.8" r="6.3"/>
<circle cx="1186.8" cy="1400" r="6.3"/>
<circle cx="1129.8" cy="1402.6" r="6.3"/>
<circle cx="1111.3" cy="1404.8" r="6.3"/>
<circle cx="1117.3" cy="1407.1" r="6.3"/>
<circle cx="1120.8" cy="1410.1" r="6.3"/>
<circle cx="1096.3" cy="1409" r="6.3"/>
<circle cx="1041.5" cy="1404.4" r="6.3"/>
<circle cx="1133.8" cy="1420.6" r="6.3"/>
<circle cx="1142.8" cy="1421.3" r="6.3"/>
<circle cx="1149.9" cy="1419.8" r="6.3"/>
<circle cx="1208.9" cy="1419.5" r="6.3"/>
<circle cx="1158.1" cy="1435.6" r="6.3"/>
<circle cx="1121.8" cy="1443.4" r="6.3"/>
<circle cx="1125.6" cy="1444.3" r="6.3"/>
<circle cx="1087.7" cy="1450.9" r="6.3"/>
<circle cx="1092.2" cy="1457.3" r="6.3"/>
<circle cx="1088.8" cy="1466.8" r="6.3"/>
<circle cx="1152.3" cy="1459.3" r="6.3"/>
<circle cx="1158.3" cy="1460.3" r="6.3"/>
<circle cx="1206.2" cy="1452.8" r="6.3"/>
<circle cx="1153.8" cy="1508.4" r="6.3"/>
</g>
<line x1="494.3" y1="892" x2="494.3" y2="1548.8" stroke="#a3399a" stroke-width="3.7" stroke-linecap="butt"/>
<line x1="1139" y1="891.5" x2="1139" y2="1548.8" stroke="#a3399a" stroke-width="3.7" stroke-linecap="butt"/>
<line x1="321.5" y1="1345.7" x2="1444.4" y2="1345.7" stroke="#a3399a" stroke-width="3.7" stroke-linecap="butt"/>
<line x1="321.5" y1="892" x2="321.5" y2="1550.2" stroke="#333333" stroke-width="2.8" stroke-linecap="butt"/>
<line x1="320.1" y1="1066.3" x2="1271.8" y2="1066.3" stroke="#333333" stroke-width="2.8" stroke-linecap="butt"/>
<line x1="1270.4" y1="1066.3" x2="1270.4" y2="1550.2" stroke="#333333" stroke-width="2.8" stroke-linecap="butt"/>
<line x1="321.5" y1="1548.8" x2="1445.3" y2="1548.8" stroke="#333333" stroke-width="2.8" stroke-linecap="butt"/>
<line x1="321.5" y1="974.5" x2="328.5" y2="974.5" stroke="#333333" stroke-width="2.5" stroke-linecap="butt"/>
<text transform="translate(313.3 983.4) scale(1 1.03)" font-size="29.9" text-anchor="end" fill="#111" >10</text>
<line x1="321.5" y1="1475.8" x2="328.5" y2="1475.8" stroke="#333333" stroke-width="2.5" stroke-linecap="butt"/>
<text transform="translate(313.5 1484.7) scale(1 1.03)" font-size="29.9" text-anchor="end" fill="#111" >115</text>
<line x1="321.5" y1="1341.8" x2="328.5" y2="1341.8" stroke="#333333" stroke-width="2.5" stroke-linecap="butt"/>
<text transform="translate(313.5 1350.7) scale(1 1.03)" font-size="29.9" text-anchor="end" fill="#111" >120</text>
<line x1="321.5" y1="1207.8" x2="328.5" y2="1207.8" stroke="#333333" stroke-width="2.5" stroke-linecap="butt"/>
<text transform="translate(313.5 1216.7) scale(1 1.03)" font-size="29.9" text-anchor="end" fill="#111" >125</text>
<line x1="321.5" y1="1073.8" x2="328.5" y2="1073.8" stroke="#333333" stroke-width="2.5" stroke-linecap="butt"/>
<text transform="translate(313.5 1082.7) scale(1 1.03)" font-size="29.9" text-anchor="end" fill="#111" >130</text>
<line x1="487.9" y1="1548.8" x2="487.9" y2="1541.8" stroke="#333333" stroke-width="2.5" stroke-linecap="butt"/>
<text transform="translate(487.9 1582.5) scale(1 1.03)" font-size="29.9" text-anchor="middle" fill="#111" >260</text>
<line x1="654.3" y1="1548.8" x2="654.3" y2="1541.8" stroke="#333333" stroke-width="2.5" stroke-linecap="butt"/>
<text transform="translate(654.3 1582.5) scale(1 1.03)" font-size="29.9" text-anchor="middle" fill="#111" >270</text>
<line x1="820.7" y1="1548.8" x2="820.7" y2="1541.8" stroke="#333333" stroke-width="2.5" stroke-linecap="butt"/>
<text transform="translate(820.7 1582.5) scale(1 1.03)" font-size="29.9" text-anchor="middle" fill="#111" >280</text>
<line x1="987.1" y1="1548.8" x2="987.1" y2="1541.8" stroke="#333333" stroke-width="2.5" stroke-linecap="butt"/>
<text transform="translate(987.1 1582.5) scale(1 1.03)" font-size="29.9" text-anchor="middle" fill="#111" >290</text>
<line x1="1153.5" y1="1548.8" x2="1153.5" y2="1541.8" stroke="#333333" stroke-width="2.5" stroke-linecap="butt"/>
<text transform="translate(1153.5 1582.5) scale(1 1.03)" font-size="29.9" text-anchor="middle" fill="#111" >300</text>
<text transform="translate(316.9 1582.5) scale(1 1.03)" font-size="29.9" text-anchor="start" fill="#111" >250</text>
<line x1="1380.2" y1="1548.8" x2="1380.2" y2="1541.8" stroke="#333333" stroke-width="2.5" stroke-linecap="butt"/>
<text transform="translate(1379.8 1582.5) scale(1 1.03)" font-size="29.9" text-anchor="middle" fill="#111" >20</text>
<text transform="translate(1357 1622.5) scale(1 1.03)" font-size="29.9" text-anchor="middle" fill="#111" >Counts</text>
<text transform="translate(796.3 1622.5) scale(1 1.03)" font-size="29.9" text-anchor="middle" fill="#111" >Length <tspan font-style="italic">l</tspan> (nm)</text>
<text transform="translate(248.2 1308.2) rotate(-90) scale(1 1.03)" font-size="29.9" text-anchor="middle" fill="#111">Width <tspan font-style="italic">w</tspan> (nm)</text>
<text transform="translate(248.7 979.6) rotate(-90) scale(1 1.03)" font-size="29.9" text-anchor="middle" fill="#111">Counts</text>
<text transform="translate(465.5 865) scale(1 1.03)" font-size="29.9" text-anchor="start" fill="#a3399a" ><tspan font-style="italic">l</tspan><tspan font-size="17" dy="9.3">1,mean</tspan></text>
<text transform="translate(1108.5 865) scale(1 1.03)" font-size="29.9" text-anchor="start" fill="#a3399a" ><tspan font-style="italic">l</tspan><tspan font-size="17" dy="9.3">2,mean</tspan></text>
<text transform="translate(1469.5 1321) rotate(90) scale(1 1.03)" font-size="29.9" text-anchor="start" fill="#a3399a"><tspan font-style="italic">w</tspan><tspan font-size="17" dy="9.2">mean</tspan></text>
<text transform="translate(213.5 866.3) scale(1 1.03)" font-size="36" text-anchor="start" fill="#111" font-weight="bold">C</text>
<rect x="1279.3" y="891.4" width="165.3" height="166.5" rx="9.5" fill="#e6e7e8" stroke="#0f4c9c" stroke-width="3"/>
<path d="M1307.9 908.2C1311.1 907.2 1315.8 909.3 1319.8 909.5C1323.7 909.7 1327.7 909.6 1331.7 909.4C1335.6 909.2 1339.6 908.5 1343.5 908.5C1347.5 908.4 1351.5 908.8 1355.4 908.9C1359.4 909 1363.3 908.8 1367.3 908.8C1371.2 908.9 1375.2 909.1 1379.2 909.2C1383.1 909.3 1387.1 909.6 1391 909.4C1395 909.3 1399 908.4 1402.9 908.2C1406.9 907.9 1411.6 906.8 1414.8 908.1C1418 909.3 1421 913 1422.1 915.9C1423.3 918.8 1421.7 922.4 1421.7 925.7C1421.7 929 1422.1 932.2 1422.1 935.5C1422 938.8 1422.5 942.5 1421.3 945.3C1420.1 948.1 1417.9 951 1414.8 952.2C1411.7 953.4 1406.9 952.8 1402.9 952.7C1399 952.6 1395 951.7 1391 951.8C1387.1 951.9 1383.1 952.9 1379.2 953.1C1375.2 953.3 1371.2 953.3 1367.3 953C1363.3 952.7 1359.4 951.7 1355.4 951.5C1351.5 951.2 1347.5 951.3 1343.5 951.4C1339.6 951.6 1335.6 952.1 1331.7 952.4C1327.7 952.6 1323.7 953.1 1319.8 953.1C1315.8 953 1311.1 953.4 1307.9 952.1C1304.7 950.8 1301.8 948.1 1300.6 945.3C1299.4 942.5 1300.9 938.8 1300.8 935.5C1300.8 932.2 1300.5 929 1300.4 925.7C1300.4 922.4 1299.4 918.8 1300.6 915.9C1301.9 913 1304.7 909.3 1307.9 908.2Z" fill="#fff" stroke="#222" stroke-width="1"/>
<rect x="1309" y="917" width="104.1" height="27.3" rx="6" fill="#000" filter="url(#mot)"/>
<path d="M1316.7 994.2C1319.6 993.2 1323.5 994.5 1326.9 994.2C1330.3 993.9 1333.7 992.9 1337.1 992.6C1340.5 992.3 1343.9 992.4 1347.3 992.7C1350.7 992.9 1354.1 993.8 1357.5 994C1360.9 994.2 1364.2 993.9 1367.6 993.8C1371 993.8 1374.4 993.8 1377.8 993.7C1381.2 993.6 1384.6 993.1 1388 993.1C1391.4 993 1394.8 993.5 1398.2 993.6C1401.6 993.7 1405.5 992.5 1408.4 993.6C1411.3 994.7 1414.4 997.5 1415.5 1000.4C1416.6 1003.3 1415.1 1007.3 1415.1 1010.8C1415 1014.2 1415.3 1017.7 1415.3 1021.1C1415.4 1024.6 1416.4 1028.5 1415.3 1031.5C1414.1 1034.5 1411.2 1037.6 1408.4 1038.9C1405.6 1040.2 1401.6 1039.3 1398.2 1039.4C1394.8 1039.5 1391.4 1039.4 1388 1039.3C1384.6 1039.2 1381.2 1038.7 1377.8 1038.6C1374.4 1038.4 1371 1038.5 1367.6 1038.4C1364.2 1038.3 1360.9 1038.2 1357.5 1038.1C1354.1 1038 1350.7 1037.7 1347.3 1037.7C1343.9 1037.6 1340.5 1037.5 1337.1 1037.6C1333.7 1037.8 1330.3 1038.3 1326.9 1038.4C1323.5 1038.5 1319.6 1039.3 1316.7 1038.2C1313.8 1037 1310.7 1034.3 1309.6 1031.5C1308.5 1028.7 1310.1 1024.6 1310.1 1021.1C1310.1 1017.7 1309.8 1014.2 1309.7 1010.8C1309.7 1007.3 1308.6 1003.2 1309.8 1000.4C1310.9 997.6 1313.8 995.3 1316.7 994.2Z" fill="#fff" stroke="#222" stroke-width="1"/>
<rect x="1318.9" y="1001.4" width="87.2" height="28.5" rx="6" fill="#000" filter="url(#mot)"/>
</svg>
</body></html>
